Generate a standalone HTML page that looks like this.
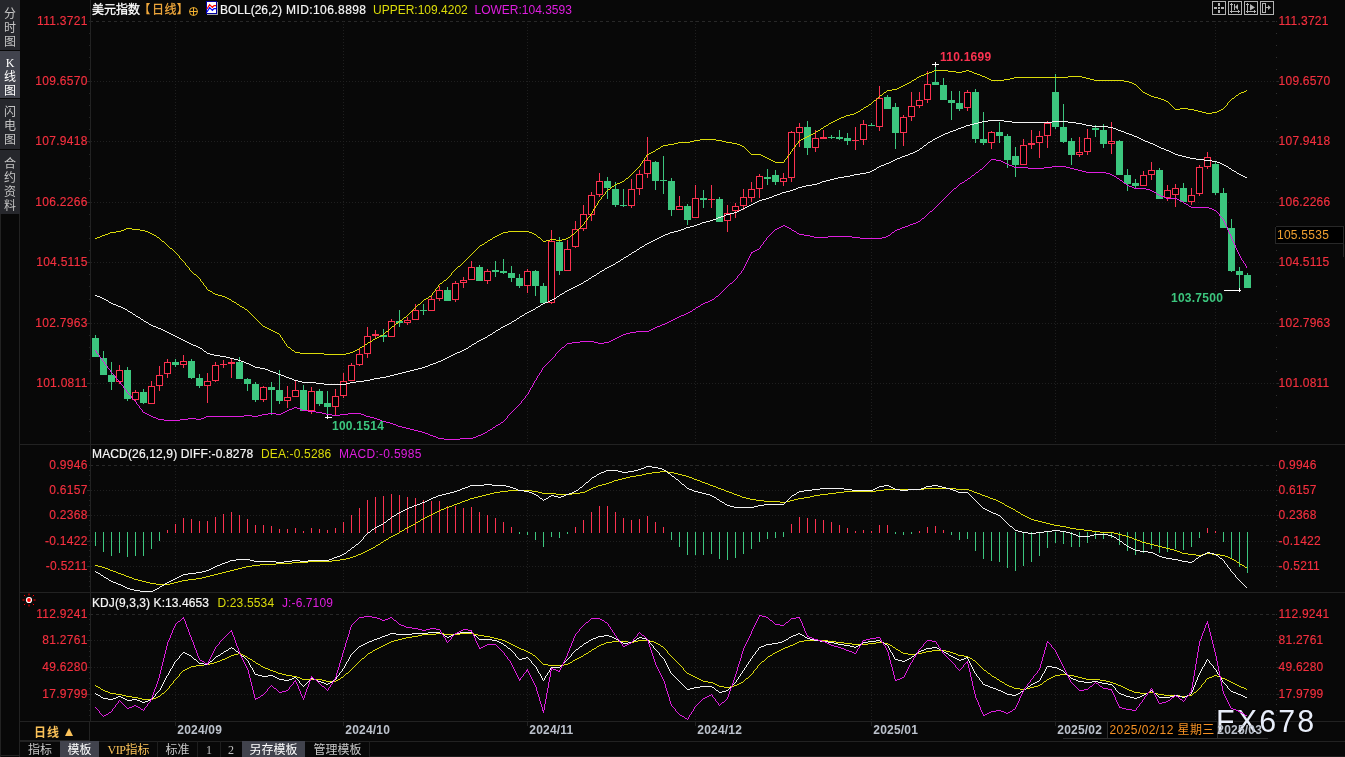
<!DOCTYPE html><html lang="zh"><head><meta charset="utf-8"><title>美元指数 日线</title><style>
html,body{margin:0;padding:0;background:#080808;}
body{width:1345px;height:757px;position:relative;overflow:hidden;font-family:"Liberation Sans","Noto Sans CJK SC",sans-serif;font-size:12px;line-height:14px;color:#e8e8e8;}
.t{position:absolute;white-space:nowrap;line-height:14px;height:14px;}
.r{color:#fb3250;}
.ax{position:absolute;left:20px;width:67.6px;letter-spacing:0.28px;text-align:right;color:#f5303f;-webkit-text-stroke:0.15px #f5303f;line-height:14px;height:14px;white-space:nowrap;}
.rx{position:absolute;left:1278.6px;letter-spacing:0.22px;color:#f5303f;-webkit-text-stroke:0.15px #f5303f;line-height:14px;height:14px;white-space:nowrap;}
.sb{position:absolute;left:0;width:20px;background:#26272c;color:#c4c4c4;text-align:center;line-height:14px;font-size:12px;}
.sb span{display:block;height:14px;}
.tab{position:absolute;top:741px;height:16px;line-height:18px;color:#c8c8c8;text-align:center;white-space:nowrap;}
.sel{background:#41434d;color:#fff;}
.dv{position:absolute;top:741px;width:1px;height:16px;background:#1e1e1e;}
.mo{position:absolute;top:723px;font-weight:bold;letter-spacing:0.2px;color:#bcc2cc;line-height:14px;white-space:nowrap;}
</style></head><body>
<div class="sb" style="top:0;height:50px;padding-top:0"><div style="padding-top:7px"><span>分</span><span>时</span><span>图</span></div></div>
<div class="sb sel" style="top:51px;height:47px;color:#fff"><div style="padding-top:5px"><span style='font-family:"Liberation Serif",serif'>K</span><span>线</span><span>图</span></div></div>
<div class="sb" style="top:99px;height:50px"><div style="padding-top:6px"><span>闪</span><span>电</span><span>图</span></div></div>
<div class="sb" style="top:150px;height:64px"><div style="padding-top:7px"><span>合</span><span>约</span><span>资</span><span>料</span></div></div>
<svg width="1345" height="757" viewBox="0 0 1345 757" style="position:absolute;left:0;top:0" shape-rendering="crispEdges">
<rect x="20" y="444" width="1325" height="1" fill="#222222"/>
<rect x="20" y="592" width="1325" height="1" fill="#222222"/>
<rect x="20" y="721" width="1325" height="1" fill="#222222"/>
<rect x="20" y="740" width="70" height="1" fill="#222222"/>
<rect x="20" y="741" width="1325" height="1" fill="#222222"/>
<rect x="369" y="756" width="976" height="1" fill="#1c1c1c"/>
<rect x="0" y="755" width="20" height="1" fill="#222222"/>
<rect x="0" y="214" width="1" height="543" fill="#222222"/>
<rect x="19" y="214" width="1" height="543" fill="#222222"/>
<rect x="90" y="0" width="1" height="721" fill="#222222"/>
<rect x="89" y="21" width="1" height="1" fill="#242424"/>
<rect x="1276" y="21" width="1" height="1" fill="#303030"/>
<rect x="89" y="33" width="1" height="1" fill="#242424"/>
<rect x="1276" y="33" width="1" height="1" fill="#303030"/>
<rect x="89" y="45" width="1" height="1" fill="#242424"/>
<rect x="1276" y="45" width="1" height="1" fill="#303030"/>
<rect x="89" y="57" width="1" height="1" fill="#242424"/>
<rect x="1276" y="57" width="1" height="1" fill="#303030"/>
<rect x="89" y="69" width="1" height="1" fill="#242424"/>
<rect x="1276" y="69" width="1" height="1" fill="#303030"/>
<rect x="89" y="81" width="1" height="1" fill="#242424"/>
<rect x="1276" y="81" width="1" height="1" fill="#303030"/>
<rect x="89" y="93" width="1" height="1" fill="#242424"/>
<rect x="1276" y="93" width="1" height="1" fill="#303030"/>
<rect x="89" y="105" width="1" height="1" fill="#242424"/>
<rect x="1276" y="105" width="1" height="1" fill="#303030"/>
<rect x="89" y="117" width="1" height="1" fill="#242424"/>
<rect x="1276" y="117" width="1" height="1" fill="#303030"/>
<rect x="89" y="129" width="1" height="1" fill="#242424"/>
<rect x="1276" y="129" width="1" height="1" fill="#303030"/>
<rect x="89" y="142" width="1" height="1" fill="#242424"/>
<rect x="1276" y="142" width="1" height="1" fill="#303030"/>
<rect x="89" y="154" width="1" height="1" fill="#242424"/>
<rect x="1276" y="154" width="1" height="1" fill="#303030"/>
<rect x="89" y="166" width="1" height="1" fill="#242424"/>
<rect x="1276" y="166" width="1" height="1" fill="#303030"/>
<rect x="89" y="178" width="1" height="1" fill="#242424"/>
<rect x="1276" y="178" width="1" height="1" fill="#303030"/>
<rect x="89" y="190" width="1" height="1" fill="#242424"/>
<rect x="1276" y="190" width="1" height="1" fill="#303030"/>
<rect x="89" y="202" width="1" height="1" fill="#242424"/>
<rect x="1276" y="202" width="1" height="1" fill="#303030"/>
<rect x="89" y="214" width="1" height="1" fill="#242424"/>
<rect x="1276" y="214" width="1" height="1" fill="#303030"/>
<rect x="89" y="226" width="1" height="1" fill="#242424"/>
<rect x="1276" y="226" width="1" height="1" fill="#303030"/>
<rect x="89" y="238" width="1" height="1" fill="#242424"/>
<rect x="1276" y="238" width="1" height="1" fill="#303030"/>
<rect x="89" y="250" width="1" height="1" fill="#242424"/>
<rect x="1276" y="250" width="1" height="1" fill="#303030"/>
<rect x="89" y="262" width="1" height="1" fill="#242424"/>
<rect x="1276" y="262" width="1" height="1" fill="#303030"/>
<rect x="89" y="274" width="1" height="1" fill="#242424"/>
<rect x="1276" y="274" width="1" height="1" fill="#303030"/>
<rect x="89" y="286" width="1" height="1" fill="#242424"/>
<rect x="1276" y="286" width="1" height="1" fill="#303030"/>
<rect x="89" y="299" width="1" height="1" fill="#242424"/>
<rect x="1276" y="299" width="1" height="1" fill="#303030"/>
<rect x="89" y="311" width="1" height="1" fill="#242424"/>
<rect x="1276" y="311" width="1" height="1" fill="#303030"/>
<rect x="89" y="323" width="1" height="1" fill="#242424"/>
<rect x="1276" y="323" width="1" height="1" fill="#303030"/>
<rect x="89" y="335" width="1" height="1" fill="#242424"/>
<rect x="1276" y="335" width="1" height="1" fill="#303030"/>
<rect x="89" y="347" width="1" height="1" fill="#242424"/>
<rect x="1276" y="347" width="1" height="1" fill="#303030"/>
<rect x="89" y="359" width="1" height="1" fill="#242424"/>
<rect x="1276" y="359" width="1" height="1" fill="#303030"/>
<rect x="89" y="371" width="1" height="1" fill="#242424"/>
<rect x="1276" y="371" width="1" height="1" fill="#303030"/>
<rect x="89" y="383" width="1" height="1" fill="#242424"/>
<rect x="1276" y="383" width="1" height="1" fill="#303030"/>
<rect x="89" y="395" width="1" height="1" fill="#242424"/>
<rect x="1276" y="395" width="1" height="1" fill="#303030"/>
<rect x="89" y="407" width="1" height="1" fill="#242424"/>
<rect x="1276" y="407" width="1" height="1" fill="#303030"/>
<rect x="89" y="419" width="1" height="1" fill="#242424"/>
<rect x="1276" y="419" width="1" height="1" fill="#303030"/>
<rect x="89" y="431" width="1" height="1" fill="#242424"/>
<rect x="1276" y="431" width="1" height="1" fill="#303030"/>
<rect x="89" y="465" width="1" height="1" fill="#242424"/>
<rect x="1276" y="465" width="1" height="1" fill="#303030"/>
<rect x="89" y="470" width="1" height="1" fill="#242424"/>
<rect x="1276" y="470" width="1" height="1" fill="#303030"/>
<rect x="89" y="475" width="1" height="1" fill="#242424"/>
<rect x="1276" y="475" width="1" height="1" fill="#303030"/>
<rect x="89" y="480" width="1" height="1" fill="#242424"/>
<rect x="1276" y="480" width="1" height="1" fill="#303030"/>
<rect x="89" y="485" width="1" height="1" fill="#242424"/>
<rect x="1276" y="485" width="1" height="1" fill="#303030"/>
<rect x="89" y="490" width="1" height="1" fill="#242424"/>
<rect x="1276" y="490" width="1" height="1" fill="#303030"/>
<rect x="89" y="495" width="1" height="1" fill="#242424"/>
<rect x="1276" y="495" width="1" height="1" fill="#303030"/>
<rect x="89" y="500" width="1" height="1" fill="#242424"/>
<rect x="1276" y="500" width="1" height="1" fill="#303030"/>
<rect x="89" y="505" width="1" height="1" fill="#242424"/>
<rect x="1276" y="505" width="1" height="1" fill="#303030"/>
<rect x="89" y="510" width="1" height="1" fill="#242424"/>
<rect x="1276" y="510" width="1" height="1" fill="#303030"/>
<rect x="89" y="515" width="1" height="1" fill="#242424"/>
<rect x="1276" y="515" width="1" height="1" fill="#303030"/>
<rect x="89" y="520" width="1" height="1" fill="#242424"/>
<rect x="1276" y="520" width="1" height="1" fill="#303030"/>
<rect x="89" y="525" width="1" height="1" fill="#242424"/>
<rect x="1276" y="525" width="1" height="1" fill="#303030"/>
<rect x="89" y="530" width="1" height="1" fill="#242424"/>
<rect x="1276" y="530" width="1" height="1" fill="#303030"/>
<rect x="89" y="535" width="1" height="1" fill="#242424"/>
<rect x="1276" y="535" width="1" height="1" fill="#303030"/>
<rect x="89" y="540" width="1" height="1" fill="#242424"/>
<rect x="1276" y="540" width="1" height="1" fill="#303030"/>
<rect x="89" y="545" width="1" height="1" fill="#242424"/>
<rect x="1276" y="545" width="1" height="1" fill="#303030"/>
<rect x="89" y="550" width="1" height="1" fill="#242424"/>
<rect x="1276" y="550" width="1" height="1" fill="#303030"/>
<rect x="89" y="556" width="1" height="1" fill="#242424"/>
<rect x="1276" y="556" width="1" height="1" fill="#303030"/>
<rect x="89" y="561" width="1" height="1" fill="#242424"/>
<rect x="1276" y="561" width="1" height="1" fill="#303030"/>
<rect x="89" y="566" width="1" height="1" fill="#242424"/>
<rect x="1276" y="566" width="1" height="1" fill="#303030"/>
<rect x="89" y="571" width="1" height="1" fill="#242424"/>
<rect x="1276" y="571" width="1" height="1" fill="#303030"/>
<rect x="89" y="576" width="1" height="1" fill="#242424"/>
<rect x="1276" y="576" width="1" height="1" fill="#303030"/>
<rect x="89" y="581" width="1" height="1" fill="#242424"/>
<rect x="1276" y="581" width="1" height="1" fill="#303030"/>
<rect x="89" y="586" width="1" height="1" fill="#242424"/>
<rect x="1276" y="586" width="1" height="1" fill="#303030"/>
<rect x="89" y="614" width="1" height="1" fill="#242424"/>
<rect x="1276" y="614" width="1" height="1" fill="#303030"/>
<rect x="89" y="619" width="1" height="1" fill="#242424"/>
<rect x="1276" y="619" width="1" height="1" fill="#303030"/>
<rect x="89" y="624" width="1" height="1" fill="#242424"/>
<rect x="1276" y="624" width="1" height="1" fill="#303030"/>
<rect x="89" y="630" width="1" height="1" fill="#242424"/>
<rect x="1276" y="630" width="1" height="1" fill="#303030"/>
<rect x="89" y="635" width="1" height="1" fill="#242424"/>
<rect x="1276" y="635" width="1" height="1" fill="#303030"/>
<rect x="89" y="640" width="1" height="1" fill="#242424"/>
<rect x="1276" y="640" width="1" height="1" fill="#303030"/>
<rect x="89" y="646" width="1" height="1" fill="#242424"/>
<rect x="1276" y="646" width="1" height="1" fill="#303030"/>
<rect x="89" y="651" width="1" height="1" fill="#242424"/>
<rect x="1276" y="651" width="1" height="1" fill="#303030"/>
<rect x="89" y="656" width="1" height="1" fill="#242424"/>
<rect x="1276" y="656" width="1" height="1" fill="#303030"/>
<rect x="89" y="662" width="1" height="1" fill="#242424"/>
<rect x="1276" y="662" width="1" height="1" fill="#303030"/>
<rect x="89" y="667" width="1" height="1" fill="#242424"/>
<rect x="1276" y="667" width="1" height="1" fill="#303030"/>
<rect x="89" y="672" width="1" height="1" fill="#242424"/>
<rect x="1276" y="672" width="1" height="1" fill="#303030"/>
<rect x="89" y="678" width="1" height="1" fill="#242424"/>
<rect x="1276" y="678" width="1" height="1" fill="#303030"/>
<rect x="89" y="683" width="1" height="1" fill="#242424"/>
<rect x="1276" y="683" width="1" height="1" fill="#303030"/>
<rect x="89" y="688" width="1" height="1" fill="#242424"/>
<rect x="1276" y="688" width="1" height="1" fill="#303030"/>
<rect x="89" y="694" width="1" height="1" fill="#242424"/>
<rect x="1276" y="694" width="1" height="1" fill="#303030"/>
<rect x="89" y="699" width="1" height="1" fill="#242424"/>
<rect x="1276" y="699" width="1" height="1" fill="#303030"/>
<rect x="89" y="704" width="1" height="1" fill="#242424"/>
<rect x="1276" y="704" width="1" height="1" fill="#303030"/>
<rect x="89" y="710" width="1" height="1" fill="#242424"/>
<rect x="1276" y="710" width="1" height="1" fill="#303030"/>
<rect x="89" y="715" width="1" height="1" fill="#242424"/>
<rect x="1276" y="715" width="1" height="1" fill="#303030"/>
<rect x="1276" y="81" width="3" height="1" fill="#2a2a2a"/>
<rect x="87" y="81" width="3" height="1" fill="#2a2a2a"/>
<rect x="1276" y="141" width="3" height="1" fill="#2a2a2a"/>
<rect x="87" y="141" width="3" height="1" fill="#2a2a2a"/>
<rect x="1276" y="202" width="3" height="1" fill="#2a2a2a"/>
<rect x="87" y="202" width="3" height="1" fill="#2a2a2a"/>
<rect x="1276" y="262" width="3" height="1" fill="#2a2a2a"/>
<rect x="87" y="262" width="3" height="1" fill="#2a2a2a"/>
<rect x="1276" y="323" width="3" height="1" fill="#2a2a2a"/>
<rect x="87" y="323" width="3" height="1" fill="#2a2a2a"/>
<rect x="1276" y="383" width="3" height="1" fill="#2a2a2a"/>
<rect x="87" y="383" width="3" height="1" fill="#2a2a2a"/>
<rect x="1276" y="490" width="3" height="1" fill="#2a2a2a"/>
<rect x="87" y="490" width="3" height="1" fill="#2a2a2a"/>
<rect x="1276" y="515" width="3" height="1" fill="#2a2a2a"/>
<rect x="87" y="515" width="3" height="1" fill="#2a2a2a"/>
<rect x="1276" y="541" width="3" height="1" fill="#2a2a2a"/>
<rect x="87" y="541" width="3" height="1" fill="#2a2a2a"/>
<rect x="1276" y="566" width="3" height="1" fill="#2a2a2a"/>
<rect x="87" y="566" width="3" height="1" fill="#2a2a2a"/>
<rect x="1276" y="640" width="3" height="1" fill="#2a2a2a"/>
<rect x="87" y="640" width="3" height="1" fill="#2a2a2a"/>
<rect x="1276" y="667" width="3" height="1" fill="#2a2a2a"/>
<rect x="87" y="667" width="3" height="1" fill="#2a2a2a"/>
<rect x="1276" y="694" width="3" height="1" fill="#2a2a2a"/>
<rect x="87" y="694" width="3" height="1" fill="#2a2a2a"/>
<path d="M91 21.5H1275" stroke="#282828" stroke-width="1" stroke-dasharray="3 3" stroke-dashoffset="1" fill="none"/>
<path d="M91 81.5H1278" stroke="#1f1f1f" stroke-width="1" stroke-dasharray="1 2" fill="none"/>
<path d="M91 141.5H1278" stroke="#1f1f1f" stroke-width="1" stroke-dasharray="1 2" fill="none"/>
<path d="M91 202.5H1278" stroke="#1f1f1f" stroke-width="1" stroke-dasharray="1 2" fill="none"/>
<path d="M91 262.5H1278" stroke="#1f1f1f" stroke-width="1" stroke-dasharray="1 2" fill="none"/>
<path d="M91 323.5H1278" stroke="#1f1f1f" stroke-width="1" stroke-dasharray="1 2" fill="none"/>
<path d="M91 383.5H1278" stroke="#1f1f1f" stroke-width="1" stroke-dasharray="1 2" fill="none"/>
<path d="M91 465.5H1275" stroke="#282828" stroke-width="1" stroke-dasharray="3 3" stroke-dashoffset="1" fill="none"/>
<path d="M91 490.5H1278" stroke="#1f1f1f" stroke-width="1" stroke-dasharray="1 2" fill="none"/>
<path d="M91 515.5H1278" stroke="#1f1f1f" stroke-width="1" stroke-dasharray="1 2" fill="none"/>
<path d="M91 541.5H1278" stroke="#1f1f1f" stroke-width="1" stroke-dasharray="1 2" fill="none"/>
<path d="M91 566.5H1278" stroke="#1f1f1f" stroke-width="1" stroke-dasharray="1 2" fill="none"/>
<path d="M91 614.5H1275" stroke="#282828" stroke-width="1" stroke-dasharray="3 3" stroke-dashoffset="1" fill="none"/>
<path d="M91 640.5H1278" stroke="#1f1f1f" stroke-width="1" stroke-dasharray="1 2" fill="none"/>
<path d="M91 667.5H1278" stroke="#1f1f1f" stroke-width="1" stroke-dasharray="1 2" fill="none"/>
<path d="M91 694.5H1278" stroke="#1f1f1f" stroke-width="1" stroke-dasharray="1 2" fill="none"/>
<path d="M175.5 21V444" stroke="#1f1f1f" stroke-width="1" stroke-dasharray="1 2" fill="none"/>
<path d="M175.5 465V592" stroke="#1f1f1f" stroke-width="1" stroke-dasharray="1 2" fill="none"/>
<path d="M175.5 614V721" stroke="#1f1f1f" stroke-width="1" stroke-dasharray="1 2" fill="none"/>
<rect x="175" y="722" width="1" height="4" fill="#222222"/>
<path d="M343.5 21V444" stroke="#1f1f1f" stroke-width="1" stroke-dasharray="1 2" fill="none"/>
<path d="M343.5 465V592" stroke="#1f1f1f" stroke-width="1" stroke-dasharray="1 2" fill="none"/>
<path d="M343.5 614V721" stroke="#1f1f1f" stroke-width="1" stroke-dasharray="1 2" fill="none"/>
<rect x="343" y="722" width="1" height="4" fill="#222222"/>
<path d="M527.5 21V444" stroke="#1f1f1f" stroke-width="1" stroke-dasharray="1 2" fill="none"/>
<path d="M527.5 465V592" stroke="#1f1f1f" stroke-width="1" stroke-dasharray="1 2" fill="none"/>
<path d="M527.5 614V721" stroke="#1f1f1f" stroke-width="1" stroke-dasharray="1 2" fill="none"/>
<rect x="527" y="722" width="1" height="4" fill="#222222"/>
<path d="M695.5 21V444" stroke="#1f1f1f" stroke-width="1" stroke-dasharray="1 2" fill="none"/>
<path d="M695.5 465V592" stroke="#1f1f1f" stroke-width="1" stroke-dasharray="1 2" fill="none"/>
<path d="M695.5 614V721" stroke="#1f1f1f" stroke-width="1" stroke-dasharray="1 2" fill="none"/>
<rect x="695" y="722" width="1" height="4" fill="#222222"/>
<path d="M871.5 21V444" stroke="#1f1f1f" stroke-width="1" stroke-dasharray="1 2" fill="none"/>
<path d="M871.5 465V592" stroke="#1f1f1f" stroke-width="1" stroke-dasharray="1 2" fill="none"/>
<path d="M871.5 614V721" stroke="#1f1f1f" stroke-width="1" stroke-dasharray="1 2" fill="none"/>
<rect x="871" y="722" width="1" height="4" fill="#222222"/>
<path d="M1055.5 21V444" stroke="#1f1f1f" stroke-width="1" stroke-dasharray="1 2" fill="none"/>
<path d="M1055.5 465V592" stroke="#1f1f1f" stroke-width="1" stroke-dasharray="1 2" fill="none"/>
<path d="M1055.5 614V721" stroke="#1f1f1f" stroke-width="1" stroke-dasharray="1 2" fill="none"/>
<rect x="1055" y="722" width="1" height="4" fill="#222222"/>
<path d="M1215.5 21V444" stroke="#1f1f1f" stroke-width="1" stroke-dasharray="1 2" fill="none"/>
<path d="M1215.5 465V592" stroke="#1f1f1f" stroke-width="1" stroke-dasharray="1 2" fill="none"/>
<path d="M1215.5 614V721" stroke="#1f1f1f" stroke-width="1" stroke-dasharray="1 2" fill="none"/>
<rect x="1215" y="722" width="1" height="4" fill="#222222"/>
<rect x="89" y="722" width="1" height="19" fill="#222222"/>
<rect x="95" y="335" width="1" height="22" fill="#3cc67e"/>
<rect x="92" y="338" width="7" height="19" fill="#3cc67e"/>
<rect x="103" y="351" width="1" height="24" fill="#3cc67e"/>
<rect x="100" y="358" width="7" height="17" fill="#3cc67e"/>
<rect x="111" y="362" width="1" height="28" fill="#3cc67e"/>
<rect x="108" y="375" width="7" height="7" fill="#3cc67e"/>
<rect x="119" y="365" width="1" height="19" fill="#fb3250"/>
<rect x="116" y="370" width="7" height="12" fill="#fb3250"/>
<rect x="117" y="371" width="5" height="10" fill="#000"/>
<rect x="127" y="367" width="1" height="34" fill="#3cc67e"/>
<rect x="124" y="370" width="7" height="29" fill="#3cc67e"/>
<rect x="135" y="390" width="1" height="11" fill="#fb3250"/>
<rect x="132" y="392" width="7" height="8" fill="#fb3250"/>
<rect x="133" y="393" width="5" height="6" fill="#000"/>
<rect x="143" y="389" width="1" height="15" fill="#3cc67e"/>
<rect x="140" y="392" width="7" height="11" fill="#3cc67e"/>
<rect x="151" y="381" width="1" height="23" fill="#fb3250"/>
<rect x="148" y="386" width="7" height="18" fill="#fb3250"/>
<rect x="149" y="387" width="5" height="16" fill="#000"/>
<rect x="159" y="366" width="1" height="25" fill="#fb3250"/>
<rect x="156" y="375" width="7" height="11" fill="#fb3250"/>
<rect x="157" y="376" width="5" height="9" fill="#000"/>
<rect x="167" y="359" width="1" height="19" fill="#fb3250"/>
<rect x="164" y="362" width="7" height="12" fill="#fb3250"/>
<rect x="165" y="363" width="5" height="10" fill="#000"/>
<rect x="175" y="359" width="1" height="8" fill="#3cc67e"/>
<rect x="172" y="362" width="7" height="3" fill="#3cc67e"/>
<rect x="183" y="355" width="1" height="13" fill="#fb3250"/>
<rect x="180" y="361" width="7" height="4" fill="#fb3250"/>
<rect x="181" y="362" width="5" height="2" fill="#000"/>
<rect x="191" y="359" width="1" height="20" fill="#3cc67e"/>
<rect x="188" y="361" width="7" height="17" fill="#3cc67e"/>
<rect x="199" y="374" width="1" height="14" fill="#3cc67e"/>
<rect x="196" y="378" width="7" height="8" fill="#3cc67e"/>
<rect x="207" y="373" width="1" height="30" fill="#fb3250"/>
<rect x="204" y="381" width="7" height="5" fill="#fb3250"/>
<rect x="205" y="382" width="5" height="3" fill="#000"/>
<rect x="215" y="362" width="1" height="20" fill="#fb3250"/>
<rect x="212" y="365" width="7" height="16" fill="#fb3250"/>
<rect x="213" y="366" width="5" height="14" fill="#000"/>
<rect x="223" y="360" width="1" height="8" fill="#fb3250"/>
<rect x="220" y="364" width="7" height="1" fill="#fb3250"/>
<rect x="231" y="359" width="1" height="19" fill="#fb3250"/>
<rect x="228" y="362" width="7" height="2" fill="#fb3250"/>
<rect x="239" y="357" width="1" height="22" fill="#3cc67e"/>
<rect x="236" y="362" width="7" height="17" fill="#3cc67e"/>
<rect x="247" y="378" width="1" height="13" fill="#3cc67e"/>
<rect x="244" y="379" width="7" height="5" fill="#3cc67e"/>
<rect x="255" y="382" width="1" height="20" fill="#3cc67e"/>
<rect x="252" y="384" width="7" height="16" fill="#3cc67e"/>
<rect x="263" y="386" width="1" height="16" fill="#fb3250"/>
<rect x="260" y="387" width="7" height="13" fill="#fb3250"/>
<rect x="261" y="388" width="5" height="11" fill="#000"/>
<rect x="271" y="382" width="1" height="33" fill="#3cc67e"/>
<rect x="268" y="387" width="7" height="3" fill="#3cc67e"/>
<rect x="279" y="370" width="1" height="34" fill="#3cc67e"/>
<rect x="276" y="390" width="7" height="11" fill="#3cc67e"/>
<rect x="287" y="386" width="1" height="22" fill="#fb3250"/>
<rect x="284" y="397" width="7" height="4" fill="#fb3250"/>
<rect x="285" y="398" width="5" height="2" fill="#000"/>
<rect x="295" y="380" width="1" height="17" fill="#fb3250"/>
<rect x="292" y="390" width="7" height="7" fill="#fb3250"/>
<rect x="293" y="391" width="5" height="5" fill="#000"/>
<rect x="303" y="385" width="1" height="26" fill="#3cc67e"/>
<rect x="300" y="390" width="7" height="21" fill="#3cc67e"/>
<rect x="311" y="387" width="1" height="27" fill="#fb3250"/>
<rect x="308" y="391" width="7" height="20" fill="#fb3250"/>
<rect x="309" y="392" width="5" height="18" fill="#000"/>
<rect x="319" y="389" width="1" height="17" fill="#3cc67e"/>
<rect x="316" y="391" width="7" height="13" fill="#3cc67e"/>
<rect x="327" y="391" width="1" height="25" fill="#3cc67e"/>
<rect x="324" y="403" width="7" height="4" fill="#3cc67e"/>
<rect x="335" y="389" width="1" height="26" fill="#fb3250"/>
<rect x="332" y="396" width="7" height="11" fill="#fb3250"/>
<rect x="333" y="397" width="5" height="9" fill="#000"/>
<rect x="343" y="373" width="1" height="25" fill="#fb3250"/>
<rect x="340" y="381" width="7" height="15" fill="#fb3250"/>
<rect x="341" y="382" width="5" height="13" fill="#000"/>
<rect x="351" y="363" width="1" height="18" fill="#fb3250"/>
<rect x="348" y="365" width="7" height="16" fill="#fb3250"/>
<rect x="349" y="366" width="5" height="14" fill="#000"/>
<rect x="359" y="349" width="1" height="17" fill="#fb3250"/>
<rect x="356" y="354" width="7" height="11" fill="#fb3250"/>
<rect x="357" y="355" width="5" height="9" fill="#000"/>
<rect x="367" y="327" width="1" height="31" fill="#fb3250"/>
<rect x="364" y="336" width="7" height="18" fill="#fb3250"/>
<rect x="365" y="337" width="5" height="16" fill="#000"/>
<rect x="375" y="330" width="1" height="8" fill="#fb3250"/>
<rect x="372" y="334" width="7" height="2" fill="#fb3250"/>
<rect x="383" y="329" width="1" height="13" fill="#3cc67e"/>
<rect x="380" y="335" width="7" height="2" fill="#3cc67e"/>
<rect x="391" y="319" width="1" height="18" fill="#fb3250"/>
<rect x="388" y="321" width="7" height="16" fill="#fb3250"/>
<rect x="389" y="322" width="5" height="14" fill="#000"/>
<rect x="399" y="310" width="1" height="17" fill="#3cc67e"/>
<rect x="396" y="321" width="7" height="2" fill="#3cc67e"/>
<rect x="407" y="317" width="1" height="8" fill="#fb3250"/>
<rect x="404" y="320" width="7" height="3" fill="#fb3250"/>
<rect x="405" y="321" width="5" height="1" fill="#000"/>
<rect x="415" y="304" width="1" height="16" fill="#fb3250"/>
<rect x="412" y="310" width="7" height="10" fill="#fb3250"/>
<rect x="413" y="311" width="5" height="8" fill="#000"/>
<rect x="423" y="304" width="1" height="11" fill="#3cc67e"/>
<rect x="420" y="310" width="7" height="1" fill="#3cc67e"/>
<rect x="431" y="295" width="1" height="16" fill="#fb3250"/>
<rect x="428" y="299" width="7" height="12" fill="#fb3250"/>
<rect x="429" y="300" width="5" height="10" fill="#000"/>
<rect x="439" y="286" width="1" height="15" fill="#fb3250"/>
<rect x="436" y="290" width="7" height="9" fill="#fb3250"/>
<rect x="437" y="291" width="5" height="7" fill="#000"/>
<rect x="447" y="287" width="1" height="14" fill="#3cc67e"/>
<rect x="444" y="290" width="7" height="11" fill="#3cc67e"/>
<rect x="455" y="281" width="1" height="21" fill="#fb3250"/>
<rect x="452" y="283" width="7" height="17" fill="#fb3250"/>
<rect x="453" y="284" width="5" height="15" fill="#000"/>
<rect x="463" y="277" width="1" height="11" fill="#fb3250"/>
<rect x="460" y="280" width="7" height="3" fill="#fb3250"/>
<rect x="461" y="281" width="5" height="1" fill="#000"/>
<rect x="471" y="261" width="1" height="19" fill="#fb3250"/>
<rect x="468" y="267" width="7" height="13" fill="#fb3250"/>
<rect x="469" y="268" width="5" height="11" fill="#000"/>
<rect x="479" y="265" width="1" height="16" fill="#3cc67e"/>
<rect x="476" y="267" width="7" height="14" fill="#3cc67e"/>
<rect x="487" y="269" width="1" height="15" fill="#fb3250"/>
<rect x="484" y="271" width="7" height="10" fill="#fb3250"/>
<rect x="485" y="272" width="5" height="8" fill="#000"/>
<rect x="495" y="261" width="1" height="16" fill="#3cc67e"/>
<rect x="492" y="270" width="7" height="2" fill="#3cc67e"/>
<rect x="503" y="259" width="1" height="15" fill="#3cc67e"/>
<rect x="500" y="271" width="7" height="2" fill="#3cc67e"/>
<rect x="511" y="266" width="1" height="16" fill="#3cc67e"/>
<rect x="508" y="273" width="7" height="5" fill="#3cc67e"/>
<rect x="519" y="274" width="1" height="14" fill="#3cc67e"/>
<rect x="516" y="278" width="7" height="8" fill="#3cc67e"/>
<rect x="527" y="269" width="1" height="24" fill="#fb3250"/>
<rect x="524" y="271" width="7" height="15" fill="#fb3250"/>
<rect x="525" y="272" width="5" height="13" fill="#000"/>
<rect x="535" y="270" width="1" height="26" fill="#3cc67e"/>
<rect x="532" y="271" width="7" height="15" fill="#3cc67e"/>
<rect x="543" y="283" width="1" height="20" fill="#3cc67e"/>
<rect x="540" y="286" width="7" height="17" fill="#3cc67e"/>
<rect x="551" y="230" width="1" height="74" fill="#fb3250"/>
<rect x="548" y="241" width="7" height="62" fill="#fb3250"/>
<rect x="549" y="242" width="5" height="60" fill="#000"/>
<rect x="559" y="237" width="1" height="38" fill="#3cc67e"/>
<rect x="556" y="242" width="7" height="29" fill="#3cc67e"/>
<rect x="567" y="240" width="1" height="31" fill="#fb3250"/>
<rect x="564" y="249" width="7" height="22" fill="#fb3250"/>
<rect x="565" y="250" width="5" height="20" fill="#000"/>
<rect x="575" y="221" width="1" height="27" fill="#fb3250"/>
<rect x="572" y="229" width="7" height="18" fill="#fb3250"/>
<rect x="573" y="230" width="5" height="16" fill="#000"/>
<rect x="583" y="205" width="1" height="26" fill="#fb3250"/>
<rect x="580" y="214" width="7" height="15" fill="#fb3250"/>
<rect x="581" y="215" width="5" height="13" fill="#000"/>
<rect x="591" y="192" width="1" height="29" fill="#fb3250"/>
<rect x="588" y="195" width="7" height="20" fill="#fb3250"/>
<rect x="589" y="196" width="5" height="18" fill="#000"/>
<rect x="599" y="173" width="1" height="24" fill="#fb3250"/>
<rect x="596" y="181" width="7" height="14" fill="#fb3250"/>
<rect x="597" y="182" width="5" height="12" fill="#000"/>
<rect x="607" y="177" width="1" height="22" fill="#3cc67e"/>
<rect x="604" y="181" width="7" height="7" fill="#3cc67e"/>
<rect x="615" y="182" width="1" height="25" fill="#3cc67e"/>
<rect x="612" y="189" width="7" height="16" fill="#3cc67e"/>
<rect x="623" y="189" width="1" height="18" fill="#3cc67e"/>
<rect x="620" y="205" width="7" height="1" fill="#3cc67e"/>
<rect x="631" y="179" width="1" height="29" fill="#fb3250"/>
<rect x="628" y="189" width="7" height="17" fill="#fb3250"/>
<rect x="629" y="190" width="5" height="15" fill="#000"/>
<rect x="639" y="170" width="1" height="25" fill="#fb3250"/>
<rect x="636" y="174" width="7" height="15" fill="#fb3250"/>
<rect x="637" y="175" width="5" height="13" fill="#000"/>
<rect x="647" y="137" width="1" height="41" fill="#fb3250"/>
<rect x="644" y="160" width="7" height="14" fill="#fb3250"/>
<rect x="645" y="161" width="5" height="12" fill="#000"/>
<rect x="655" y="161" width="1" height="29" fill="#3cc67e"/>
<rect x="652" y="162" width="7" height="19" fill="#3cc67e"/>
<rect x="663" y="156" width="1" height="38" fill="#3cc67e"/>
<rect x="660" y="180" width="7" height="1" fill="#3cc67e"/>
<rect x="671" y="178" width="1" height="38" fill="#3cc67e"/>
<rect x="668" y="181" width="7" height="29" fill="#3cc67e"/>
<rect x="679" y="196" width="1" height="14" fill="#fb3250"/>
<rect x="676" y="206" width="7" height="4" fill="#fb3250"/>
<rect x="677" y="207" width="5" height="2" fill="#000"/>
<rect x="687" y="204" width="1" height="21" fill="#3cc67e"/>
<rect x="684" y="206" width="7" height="14" fill="#3cc67e"/>
<rect x="695" y="185" width="1" height="33" fill="#fb3250"/>
<rect x="692" y="198" width="7" height="20" fill="#fb3250"/>
<rect x="693" y="199" width="5" height="18" fill="#000"/>
<rect x="703" y="190" width="1" height="18" fill="#3cc67e"/>
<rect x="700" y="198" width="7" height="2" fill="#3cc67e"/>
<rect x="711" y="185" width="1" height="23" fill="#fb3250"/>
<rect x="708" y="199" width="7" height="1" fill="#fb3250"/>
<rect x="719" y="197" width="1" height="25" fill="#3cc67e"/>
<rect x="716" y="199" width="7" height="23" fill="#3cc67e"/>
<rect x="727" y="205" width="1" height="27" fill="#fb3250"/>
<rect x="724" y="213" width="7" height="8" fill="#fb3250"/>
<rect x="725" y="214" width="5" height="6" fill="#000"/>
<rect x="735" y="203" width="1" height="15" fill="#fb3250"/>
<rect x="732" y="206" width="7" height="5" fill="#fb3250"/>
<rect x="733" y="207" width="5" height="3" fill="#000"/>
<rect x="743" y="189" width="1" height="21" fill="#fb3250"/>
<rect x="740" y="197" width="7" height="9" fill="#fb3250"/>
<rect x="741" y="198" width="5" height="7" fill="#000"/>
<rect x="751" y="182" width="1" height="20" fill="#fb3250"/>
<rect x="748" y="189" width="7" height="9" fill="#fb3250"/>
<rect x="749" y="190" width="5" height="7" fill="#000"/>
<rect x="759" y="174" width="1" height="24" fill="#fb3250"/>
<rect x="756" y="176" width="7" height="13" fill="#fb3250"/>
<rect x="757" y="177" width="5" height="11" fill="#000"/>
<rect x="767" y="169" width="1" height="16" fill="#3cc67e"/>
<rect x="764" y="177" width="7" height="2" fill="#3cc67e"/>
<rect x="775" y="170" width="1" height="15" fill="#3cc67e"/>
<rect x="772" y="175" width="7" height="7" fill="#3cc67e"/>
<rect x="783" y="173" width="1" height="13" fill="#fb3250"/>
<rect x="780" y="178" width="7" height="4" fill="#fb3250"/>
<rect x="781" y="179" width="5" height="2" fill="#000"/>
<rect x="791" y="131" width="1" height="51" fill="#fb3250"/>
<rect x="788" y="132" width="7" height="46" fill="#fb3250"/>
<rect x="789" y="133" width="5" height="44" fill="#000"/>
<rect x="799" y="123" width="1" height="24" fill="#fb3250"/>
<rect x="796" y="127" width="7" height="6" fill="#fb3250"/>
<rect x="797" y="128" width="5" height="4" fill="#000"/>
<rect x="807" y="121" width="1" height="34" fill="#3cc67e"/>
<rect x="804" y="127" width="7" height="21" fill="#3cc67e"/>
<rect x="815" y="130" width="1" height="22" fill="#fb3250"/>
<rect x="812" y="138" width="7" height="10" fill="#fb3250"/>
<rect x="813" y="139" width="5" height="8" fill="#000"/>
<rect x="823" y="130" width="1" height="9" fill="#fb3250"/>
<rect x="820" y="137" width="7" height="2" fill="#fb3250"/>
<rect x="831" y="135" width="1" height="4" fill="#3cc67e"/>
<rect x="828" y="137" width="7" height="1" fill="#3cc67e"/>
<rect x="839" y="130" width="1" height="10" fill="#3cc67e"/>
<rect x="836" y="137" width="7" height="2" fill="#3cc67e"/>
<rect x="847" y="133" width="1" height="12" fill="#3cc67e"/>
<rect x="844" y="138" width="7" height="3" fill="#3cc67e"/>
<rect x="855" y="127" width="1" height="23" fill="#fb3250"/>
<rect x="852" y="140" width="7" height="1" fill="#fb3250"/>
<rect x="863" y="120" width="1" height="25" fill="#fb3250"/>
<rect x="860" y="124" width="7" height="16" fill="#fb3250"/>
<rect x="861" y="125" width="5" height="14" fill="#000"/>
<rect x="871" y="123" width="1" height="3" fill="#3cc67e"/>
<rect x="868" y="125" width="7" height="1" fill="#3cc67e"/>
<rect x="879" y="86" width="1" height="45" fill="#fb3250"/>
<rect x="876" y="98" width="7" height="29" fill="#fb3250"/>
<rect x="877" y="99" width="5" height="27" fill="#000"/>
<rect x="887" y="95" width="1" height="14" fill="#3cc67e"/>
<rect x="884" y="97" width="7" height="12" fill="#3cc67e"/>
<rect x="895" y="103" width="1" height="46" fill="#3cc67e"/>
<rect x="892" y="107" width="7" height="26" fill="#3cc67e"/>
<rect x="903" y="115" width="1" height="31" fill="#fb3250"/>
<rect x="900" y="117" width="7" height="16" fill="#fb3250"/>
<rect x="901" y="118" width="5" height="14" fill="#000"/>
<rect x="911" y="92" width="1" height="29" fill="#fb3250"/>
<rect x="908" y="106" width="7" height="11" fill="#fb3250"/>
<rect x="909" y="107" width="5" height="9" fill="#000"/>
<rect x="919" y="92" width="1" height="16" fill="#fb3250"/>
<rect x="916" y="100" width="7" height="6" fill="#fb3250"/>
<rect x="917" y="101" width="5" height="4" fill="#000"/>
<rect x="927" y="71" width="1" height="32" fill="#fb3250"/>
<rect x="924" y="84" width="7" height="16" fill="#fb3250"/>
<rect x="925" y="85" width="5" height="14" fill="#000"/>
<rect x="935" y="66" width="1" height="19" fill="#3cc67e"/>
<rect x="932" y="82" width="7" height="3" fill="#3cc67e"/>
<rect x="943" y="78" width="1" height="22" fill="#3cc67e"/>
<rect x="940" y="85" width="7" height="15" fill="#3cc67e"/>
<rect x="951" y="91" width="1" height="29" fill="#3cc67e"/>
<rect x="948" y="100" width="7" height="3" fill="#3cc67e"/>
<rect x="959" y="91" width="1" height="20" fill="#3cc67e"/>
<rect x="956" y="103" width="7" height="6" fill="#3cc67e"/>
<rect x="967" y="90" width="1" height="21" fill="#fb3250"/>
<rect x="964" y="92" width="7" height="16" fill="#fb3250"/>
<rect x="965" y="93" width="5" height="14" fill="#000"/>
<rect x="975" y="89" width="1" height="54" fill="#3cc67e"/>
<rect x="972" y="92" width="7" height="47" fill="#3cc67e"/>
<rect x="983" y="112" width="1" height="33" fill="#3cc67e"/>
<rect x="980" y="139" width="7" height="4" fill="#3cc67e"/>
<rect x="991" y="131" width="1" height="18" fill="#fb3250"/>
<rect x="988" y="132" width="7" height="11" fill="#fb3250"/>
<rect x="989" y="133" width="5" height="9" fill="#000"/>
<rect x="999" y="122" width="1" height="21" fill="#3cc67e"/>
<rect x="996" y="132" width="7" height="4" fill="#3cc67e"/>
<rect x="1007" y="134" width="1" height="34" fill="#3cc67e"/>
<rect x="1004" y="136" width="7" height="24" fill="#3cc67e"/>
<rect x="1015" y="147" width="1" height="30" fill="#3cc67e"/>
<rect x="1012" y="156" width="7" height="9" fill="#3cc67e"/>
<rect x="1023" y="139" width="1" height="26" fill="#fb3250"/>
<rect x="1020" y="145" width="7" height="20" fill="#fb3250"/>
<rect x="1021" y="146" width="5" height="18" fill="#000"/>
<rect x="1031" y="130" width="1" height="19" fill="#fb3250"/>
<rect x="1028" y="143" width="7" height="2" fill="#fb3250"/>
<rect x="1039" y="131" width="1" height="27" fill="#fb3250"/>
<rect x="1036" y="136" width="7" height="7" fill="#fb3250"/>
<rect x="1037" y="137" width="5" height="5" fill="#000"/>
<rect x="1047" y="121" width="1" height="27" fill="#fb3250"/>
<rect x="1044" y="123" width="7" height="13" fill="#fb3250"/>
<rect x="1045" y="124" width="5" height="11" fill="#000"/>
<rect x="1055" y="74" width="1" height="55" fill="#3cc67e"/>
<rect x="1052" y="92" width="7" height="35" fill="#3cc67e"/>
<rect x="1063" y="104" width="1" height="39" fill="#3cc67e"/>
<rect x="1060" y="127" width="7" height="15" fill="#3cc67e"/>
<rect x="1071" y="138" width="1" height="27" fill="#3cc67e"/>
<rect x="1068" y="141" width="7" height="14" fill="#3cc67e"/>
<rect x="1079" y="137" width="1" height="20" fill="#fb3250"/>
<rect x="1076" y="152" width="7" height="3" fill="#fb3250"/>
<rect x="1077" y="153" width="5" height="1" fill="#000"/>
<rect x="1087" y="129" width="1" height="26" fill="#fb3250"/>
<rect x="1084" y="138" width="7" height="14" fill="#fb3250"/>
<rect x="1085" y="139" width="5" height="12" fill="#000"/>
<rect x="1095" y="125" width="1" height="12" fill="#3cc67e"/>
<rect x="1092" y="128" width="7" height="2" fill="#3cc67e"/>
<rect x="1103" y="124" width="1" height="24" fill="#3cc67e"/>
<rect x="1100" y="130" width="7" height="14" fill="#3cc67e"/>
<rect x="1111" y="122" width="1" height="32" fill="#fb3250"/>
<rect x="1108" y="141" width="7" height="3" fill="#fb3250"/>
<rect x="1109" y="142" width="5" height="1" fill="#000"/>
<rect x="1119" y="140" width="1" height="35" fill="#3cc67e"/>
<rect x="1116" y="141" width="7" height="34" fill="#3cc67e"/>
<rect x="1127" y="169" width="1" height="22" fill="#3cc67e"/>
<rect x="1124" y="175" width="7" height="9" fill="#3cc67e"/>
<rect x="1135" y="179" width="1" height="9" fill="#3cc67e"/>
<rect x="1132" y="183" width="7" height="3" fill="#3cc67e"/>
<rect x="1143" y="171" width="1" height="15" fill="#fb3250"/>
<rect x="1140" y="175" width="7" height="11" fill="#fb3250"/>
<rect x="1141" y="176" width="5" height="9" fill="#000"/>
<rect x="1151" y="162" width="1" height="18" fill="#fb3250"/>
<rect x="1148" y="170" width="7" height="5" fill="#fb3250"/>
<rect x="1149" y="171" width="5" height="3" fill="#000"/>
<rect x="1159" y="168" width="1" height="31" fill="#3cc67e"/>
<rect x="1156" y="170" width="7" height="29" fill="#3cc67e"/>
<rect x="1167" y="185" width="1" height="16" fill="#fb3250"/>
<rect x="1164" y="190" width="7" height="8" fill="#fb3250"/>
<rect x="1165" y="191" width="5" height="6" fill="#000"/>
<rect x="1175" y="184" width="1" height="23" fill="#fb3250"/>
<rect x="1172" y="188" width="7" height="7" fill="#fb3250"/>
<rect x="1173" y="189" width="5" height="5" fill="#000"/>
<rect x="1183" y="183" width="1" height="19" fill="#3cc67e"/>
<rect x="1180" y="188" width="7" height="14" fill="#3cc67e"/>
<rect x="1191" y="188" width="1" height="17" fill="#fb3250"/>
<rect x="1188" y="195" width="7" height="7" fill="#fb3250"/>
<rect x="1189" y="196" width="5" height="5" fill="#000"/>
<rect x="1199" y="165" width="1" height="31" fill="#fb3250"/>
<rect x="1196" y="167" width="7" height="27" fill="#fb3250"/>
<rect x="1197" y="168" width="5" height="25" fill="#000"/>
<rect x="1207" y="152" width="1" height="17" fill="#fb3250"/>
<rect x="1204" y="157" width="7" height="10" fill="#fb3250"/>
<rect x="1205" y="158" width="5" height="8" fill="#000"/>
<rect x="1215" y="162" width="1" height="33" fill="#3cc67e"/>
<rect x="1212" y="164" width="7" height="29" fill="#3cc67e"/>
<rect x="1223" y="188" width="1" height="40" fill="#3cc67e"/>
<rect x="1220" y="193" width="7" height="35" fill="#3cc67e"/>
<rect x="1231" y="219" width="1" height="53" fill="#3cc67e"/>
<rect x="1228" y="228" width="7" height="43" fill="#3cc67e"/>
<rect x="1239" y="267" width="1" height="24" fill="#3cc67e"/>
<rect x="1236" y="271" width="7" height="4" fill="#3cc67e"/>
<rect x="1247" y="273" width="1" height="15" fill="#3cc67e"/>
<rect x="1244" y="275" width="7" height="13" fill="#3cc67e"/>
<path d="M286.5 344v2M798.5 141v2M601.5 197v2M644.5 158v2M598.5 201v2M590.5 214v2M432.5 293v2M435.5 289v2M185.5 263v2M597.5 203v2M640.5 164v2M200.5 279v2M784.5 160v2M792.5 149v2M795.5 145v2M438.5 285v2M584.5 222v2M593.5 209v2M605.5 192v2M587.5 218v2M646.5 155v2M179.5 256v2M280.5 335v2M642.5 161v2M189.5 268v2M282.5 338v2M203.5 283v2M790.5 152v2M451.5 273v2M1227.5 103v2M592.5 211v2M206.5 287v2M284.5 341v2M595.5 206v2M787.5 156v2M324 354.5h22M183 261.5h1M464 261.5h1M180 258.5h1M467 258.5h1M917 77.5h2M985 77.5h2M1014 77.5h54M1082 77.5h4M638 167.5h1M914 79.5h2M989 79.5h2M1004 79.5h6M1090 79.5h4M641 163.5h1M694 140.5h6M716 140.5h6M799 140.5h2M436 288.5h1M215 294.5h3M208 290.5h2M108 233.5h2M150 233.5h2M501 233.5h2M532 233.5h2M574 233.5h1M700 139.5h16M801 139.5h2M381 335.5h2M912 80.5h2M991 80.5h13M1094 80.5h30M846 115.5h4M854 113.5h2M1206 113.5h6M861 109.5h2M1175 109.5h5M1188 109.5h6M1221 109.5h2M612 186.5h2M909 82.5h2M1129 82.5h3M105 234.5h3M152 234.5h2M499 234.5h2M534 234.5h2M572 234.5h2M218 295.5h4M431 295.5h1M234 302.5h2M421 302.5h1M300 353.5h24M346 353.5h4M582 225.5h1M236 303.5h1M420 303.5h1M690 141.5h4M722 141.5h4M932 71.5h2M948 71.5h8M962 71.5h4M969 71.5h3M805 137.5h2M924 74.5h2M977 74.5h3M594 208.5h1M919 76.5h2M982 76.5h3M1068 76.5h14M212 292.5h1M433 292.5h1M160 239.5h1M490 239.5h2M541 239.5h1M550 239.5h6M562 239.5h4M649 153.5h2M750 153.5h1M175 252.5h1M473 252.5h1M878 97.5h1M1154 97.5h4M1234 97.5h1M674 143.5h4M732 143.5h5M797 143.5h1M647 154.5h2M751 154.5h10M789 154.5h1M245 309.5h2M413 309.5h1M164 242.5h1M485 242.5h2M874 100.5h2M1164 100.5h2M1230 100.5h1M678 142.5h12M726 142.5h6M820 129.5h1M110 232.5h6M148 232.5h2M503 232.5h5M529 232.5h3M575 232.5h1M863 108.5h1M1174 108.5h1M1180 108.5h8M1223 108.5h1M884 92.5h2M1143 92.5h2M1241 92.5h3M227 298.5h2M426 298.5h2M811 134.5h2M295 352.5h5M350 352.5h3M225 297.5h2M428 297.5h1M237 304.5h2M418 304.5h2M887 90.5h5M1141 90.5h1M1246 90.5h1M929 72.5h3M956 72.5h6M972 72.5h2M658 148.5h2M745 148.5h1M793 148.5h1M934 70.5h14M966 70.5h3M824 126.5h2M877 98.5h1M1158 98.5h3M1232 98.5h2M866 106.5h2M1172 106.5h1M1225 106.5h1M95 238.5h2M159 238.5h1M492 238.5h1M540 238.5h1M566 238.5h2M668 144.5h6M737 144.5h3M796 144.5h1M102 235.5h3M154 235.5h2M497 235.5h2M536 235.5h1M571 235.5h1M858 111.5h2M1198 111.5h4M1217 111.5h2M365 344.5h2M116 231.5h5M145 231.5h3M508 231.5h21M576 231.5h1M901 86.5h2M1137 86.5h1M257 320.5h1M400 320.5h2M291 349.5h1M357 349.5h2M269 329.5h2M389 329.5h1M773 161.5h2M231 300.5h1M423 300.5h1M222 296.5h3M429 296.5h2M254 317.5h1M404 317.5h2M617 183.5h3M263 326.5h2M392 326.5h2M873 101.5h1M1166 101.5h2M1229 101.5h1M660 147.5h1M744 147.5h1M794 147.5h1M841 117.5h3M193 273.5h1M897 88.5h2M1139 88.5h1M124 229.5h2M132 229.5h8M578 229.5h1M177 254.5h1M471 254.5h1M905 84.5h2M1134 84.5h2M97 237.5h3M157 237.5h2M493 237.5h2M538 237.5h2M568 237.5h2M161 240.5h1M488 240.5h2M542 240.5h1M546 240.5h4M556 240.5h6M892 89.5h5M1140 89.5h1M126 228.5h6M579 228.5h1M633 172.5h1M769 159.5h2M785 159.5h1M761 155.5h2M788 155.5h1M916 78.5h1M987 78.5h2M1010 78.5h4M1086 78.5h4M162 241.5h2M487 241.5h1M543 241.5h3M292 350.5h2M355 350.5h2M606 191.5h1M455 269.5h1M663 145.5h5M740 145.5h2M876 99.5h1M1161 99.5h3M1231 99.5h1M816 131.5h2M807 136.5h2M911 81.5h1M1124 81.5h5M229 299.5h2M424 299.5h2M187 266.5h1M458 266.5h2M882 94.5h1M1147 94.5h2M1238 94.5h1M248 311.5h1M411 311.5h1M645 157.5h1M765 157.5h2M121 230.5h3M140 230.5h5M577 230.5h1M439 284.5h1M886 91.5h1M1142 91.5h1M1244 91.5h2M186 265.5h1M460 265.5h1M170 248.5h2M477 248.5h1M249 312.5h1M410 312.5h1M294 351.5h1M353 351.5h2M868 105.5h1M1171 105.5h1M1226 105.5h1M661 146.5h2M742 146.5h2M192 272.5h1M452 272.5h1M251 314.5h1M408 314.5h1M201 281.5h1M443 281.5h1M585 221.5h1M169 247.5h1M478 247.5h1M199 278.5h1M447 278.5h1M775 162.5h9M860 110.5h1M1194 110.5h4M1219 110.5h2M256 319.5h1M402 319.5h1M907 83.5h2M1132 83.5h2M879 96.5h1M1151 96.5h3M1235 96.5h1M803 138.5h2M181 259.5h1M466 259.5h1M624 180.5h1M903 85.5h2M1136 85.5h1M850 114.5h4M651 152.5h2M749 152.5h1M288 347.5h2M360 347.5h2M883 93.5h1M1145 93.5h2M1239 93.5h2M628 177.5h1M620 182.5h2M242 307.5h2M415 307.5h1M856 112.5h2M1202 112.5h4M1212 112.5h5M826 125.5h2M166 244.5h1M482 244.5h2M255 318.5h1M403 318.5h1M273 331.5h2M386 331.5h2M864 107.5h2M1173 107.5h1M1224 107.5h1M839 118.5h2M244 308.5h1M414 308.5h1M265 327.5h2M391 327.5h1M921 75.5h3M980 75.5h2M379 336.5h2M198 277.5h1M448 277.5h1M261 324.5h1M395 324.5h1M277 333.5h2M384 333.5h1M375 338.5h2M262 325.5h1M394 325.5h1M364 345.5h1M899 87.5h2M1138 87.5h1M240 306.5h2M416 306.5h1M184 262.5h1M463 262.5h1M232 301.5h2M422 301.5h1M926 73.5h3M974 73.5h3M100 236.5h2M156 236.5h1M495 236.5h2M537 236.5h1M570 236.5h1M615 184.5h2M608 189.5h2M188 267.5h1M457 267.5h1M461 264.5h1M600 199.5h1M603 195.5h1M869 104.5h2M1170 104.5h1M835 120.5h2M880 95.5h2M1149 95.5h2M1236 95.5h2M213 293.5h2M815 132.5h1M165 243.5h1M484 243.5h1M258 321.5h1M399 321.5h1M283 340.5h1M372 340.5h1M197 276.5h1M449 276.5h1M635 170.5h1M281 337.5h1M377 337.5h2M194 274.5h2M767 158.5h2M786 158.5h1M176 253.5h1M472 253.5h1M622 181.5h2M653 151.5h2M748 151.5h1M791 151.5h1M643 160.5h1M771 160.5h2M871 103.5h1M1169 103.5h1M837 119.5h2M202 282.5h1M442 282.5h1M368 342.5h2M167 245.5h1M480 245.5h2M833 121.5h2M872 102.5h1M1168 102.5h1M1228 102.5h1M260 323.5h1M396 323.5h2M250 313.5h1M409 313.5h1M373 339.5h2M172 249.5h1M476 249.5h1M763 156.5h2M468 257.5h1M626 178.5h2M267 328.5h2M390 328.5h1M610 188.5h1M630 175.5h1M239 305.5h1M417 305.5h1M829 123.5h2M821 128.5h2M370 341.5h2M287 346.5h1M362 346.5h2M437 287.5h1M440 283.5h2M173 250.5h1M475 250.5h1M614 185.5h1M637 168.5h1M583 224.5h1M279 334.5h1M383 334.5h1M456 268.5h1M813 133.5h2M290 348.5h1M359 348.5h1M190 270.5h1M454 270.5h1M247 310.5h1M412 310.5h1M809 135.5h2M275 332.5h2M385 332.5h1M444 280.5h2M844 116.5h2M178 255.5h1M470 255.5h1M586 220.5h1M271 330.5h2M388 330.5h1M204 285.5h1M632 173.5h1M656 149.5h2M746 149.5h1M210 291.5h2M434 291.5h1M602 196.5h1M625 179.5h1M818 130.5h2M831 122.5h2M589 216.5h1M252 315.5h1M407 315.5h1M581 226.5h1M596 205.5h1M655 150.5h1M747 150.5h1M823 127.5h1M196 275.5h1M450 275.5h1M446 279.5h1M285 343.5h1M367 343.5h1M207 289.5h1M174 251.5h1M474 251.5h1M639 166.5h1M182 260.5h1M465 260.5h1M636 169.5h1M259 322.5h1M398 322.5h1M462 263.5h1M604 194.5h1M599 200.5h1M191 271.5h1M453 271.5h1M607 190.5h1M469 256.5h1M634 171.5h1M168 246.5h1M479 246.5h1M611 187.5h1M580 227.5h1M205 286.5h1M588 217.5h1M253 316.5h1M406 316.5h1M631 174.5h1M591 213.5h1M629 176.5h1M828 124.5h1" fill="none" stroke="#dcdc0a" stroke-width="1"/>
<path d="M834 178.5h4M891 161.5h2M1212 161.5h5M634 251.5h2M964 126.5h2M1092 126.5h16M623 258.5h1M179 338.5h2M483 338.5h2M982 121.5h6M1004 121.5h8M1052 121.5h16M626 256.5h2M615 263.5h1M647 243.5h2M893 160.5h2M1204 160.5h8M786 191.5h4M163 330.5h2M496 330.5h2M850 175.5h4M1241 175.5h2M639 248.5h1M678 230.5h3M902 156.5h3M1182 156.5h4M173 335.5h2M488 335.5h2M948 132.5h2M1124 132.5h2M562 293.5h2M183 340.5h2M479 340.5h2M684 228.5h2M734 212.5h3M884 164.5h2M1222 164.5h2M978 122.5h4M1012 122.5h40M1068 122.5h8M102 298.5h2M554 298.5h2M919 149.5h1M1164 149.5h2M241 361.5h3M438 361.5h3M127 310.5h1M531 310.5h2M939 136.5h2M1134 136.5h3M324 384.5h22M822 181.5h4M974 123.5h4M1076 123.5h6M661 236.5h2M930 141.5h2M1145 141.5h3M988 120.5h16M706 221.5h4M97 296.5h3M557 296.5h2M793 189.5h3M128 311.5h2M529 311.5h2M923 146.5h1M1157 146.5h2M966 125.5h4M1086 125.5h6M932 140.5h1M1143 140.5h2M298 381.5h4M356 381.5h8M817 183.5h3M143 320.5h1M514 320.5h2M294 380.5h4M364 380.5h6M255 367.5h5M422 367.5h3M657 238.5h2M945 133.5h3M1126 133.5h3M210 354.5h4M453 354.5h2M220 356.5h6M449 356.5h2M130 312.5h2M527 312.5h2M123 308.5h2M535 308.5h1M138 317.5h2M519 317.5h1M745 207.5h2M830 179.5h4M895 159.5h2M1196 159.5h8M798 187.5h4M146 322.5h2M511 322.5h1M214 355.5h6M451 355.5h2M935 138.5h2M1139 138.5h2M713 219.5h3M860 173.5h6M1237 173.5h2M198 347.5h2M468 347.5h1M970 124.5h4M1082 124.5h4M116 305.5h2M540 305.5h1M950 131.5h3M1121 131.5h3M108 301.5h1M548 301.5h2M226 357.5h4M447 357.5h2M109 302.5h2M545 302.5h3M631 253.5h1M844 176.5h6M1243 176.5h2M260 368.5h5M418 368.5h4M302 382.5h14M350 382.5h6M121 307.5h2M536 307.5h2M611 265.5h2M941 135.5h2M1132 135.5h2M191 344.5h2M472 344.5h2M730 213.5h4M602 270.5h2M927 143.5h1M1150 143.5h3M897 158.5h3M1190 158.5h6M759 200.5h3M316 383.5h8M346 383.5h4M806 185.5h6M187 342.5h2M476 342.5h1M153 326.5h3M503 326.5h2M879 166.5h2M1226 166.5h2M100 297.5h2M556 297.5h1M106 300.5h2M550 300.5h2M202 349.5h1M464 349.5h2M193 345.5h3M471 345.5h1M649 242.5h2M111 303.5h2M543 303.5h2M915 151.5h2M1169 151.5h2M702 222.5h4M104 299.5h2M552 299.5h2M292 379.5h2M370 379.5h4M246 363.5h3M433 363.5h3M956 129.5h2M1116 129.5h2M640 247.5h2M268 370.5h2M410 370.5h4M961 127.5h3M1108 127.5h5M281 375.5h3M390 375.5h4M812 184.5h5M567 290.5h2M876 168.5h1M1229 168.5h2M905 155.5h3M1178 155.5h4M920 148.5h2M1161 148.5h3M772 196.5h2M149 324.5h2M507 324.5h2M653 240.5h2M189 343.5h2M474 343.5h2M230 358.5h4M445 358.5h2M838 177.5h6M1245 177.5h2M741 209.5h2M171 334.5h2M490 334.5h2M276 373.5h2M398 373.5h4M937 137.5h2M1137 137.5h2M926 144.5h1M1153 144.5h2M175 336.5h2M487 336.5h1M161 329.5h2M498 329.5h2M594 275.5h2M690 226.5h4M234 359.5h4M443 359.5h2M113 304.5h3M541 304.5h2M668 233.5h2M586 280.5h2M125 309.5h2M533 309.5h2M607 267.5h2M599 272.5h1M913 152.5h2M1171 152.5h2M200 348.5h2M466 348.5h2M826 180.5h4M167 332.5h2M493 332.5h2M158 328.5h3M500 328.5h1M270 371.5h3M406 371.5h4M782 192.5h4M284 376.5h2M386 376.5h4M910 153.5h3M1173 153.5h2M645 244.5h2M697 224.5h3M273 372.5h3M402 372.5h4M637 249.5h2M629 254.5h2M872 170.5h2M1232 170.5h2M564 292.5h1M908 154.5h2M1175 154.5h3M265 369.5h3M414 369.5h4M917 150.5h2M1166 150.5h3M766 198.5h3M244 362.5h2M436 362.5h2M790 190.5h3M663 235.5h2M278 374.5h3M394 374.5h4M928 142.5h2M1148 142.5h2M238 360.5h3M441 360.5h2M710 220.5h3M156 327.5h2M501 327.5h2M686 227.5h4M886 163.5h3M1220 163.5h2M933 139.5h2M1141 139.5h2M659 237.5h2M591 277.5h1M207 353.5h3M455 353.5h2M583 282.5h1M743 208.5h2M881 165.5h3M1224 165.5h2M136 316.5h2M520 316.5h2M747 206.5h2M802 186.5h4M144 321.5h2M512 321.5h2M716 218.5h2M253 366.5h2M425 366.5h3M694 225.5h3M132 313.5h1M525 313.5h2M726 214.5h4M621 259.5h2M204 351.5h2M460 351.5h2M613 264.5h2M866 172.5h4M1236 172.5h1M674 231.5h4M560 294.5h2M721 216.5h3M141 319.5h2M516 319.5h1M249 364.5h2M430 364.5h3M958 128.5h3M1113 128.5h3M874 169.5h2M1231 169.5h1M286 377.5h3M380 377.5h6M854 174.5h6M1239 174.5h2M681 229.5h3M655 239.5h2M289 378.5h3M374 378.5h6M579 284.5h2M900 157.5h2M1186 157.5h4M870 171.5h2M1234 171.5h2M739 210.5h2M140 318.5h1M517 318.5h2M148 323.5h1M509 323.5h2M774 195.5h3M889 162.5h2M1217 162.5h3M575 286.5h2M670 232.5h4M609 266.5h2M943 134.5h2M1129 134.5h3M600 271.5h2M665 234.5h3M203 350.5h1M462 350.5h2M700 223.5h2M953 130.5h3M1118 130.5h3M724 215.5h2M133 314.5h2M524 314.5h1M651 241.5h2M644 245.5h1M118 306.5h3M538 306.5h2M151 325.5h2M505 325.5h2M769 197.5h3M592 276.5h2M584 281.5h2M605 268.5h2M877 167.5h2M1228 167.5h1M597 273.5h2M589 278.5h2M577 285.5h2M206 352.5h1M457 352.5h3M718 217.5h3M924 145.5h2M1155 145.5h2M755 202.5h2M636 250.5h1M628 255.5h1M620 260.5h1M185 341.5h2M477 341.5h2M177 337.5h2M485 337.5h2M95 295.5h2M559 295.5h1M922 147.5h1M1159 147.5h2M632 252.5h2M181 339.5h2M481 339.5h2M581 283.5h2M777 194.5h3M573 287.5h2M165 331.5h2M495 331.5h1M196 346.5h2M469 346.5h2M737 211.5h2M820 182.5h2M751 204.5h2M169 333.5h2M492 333.5h1M624 257.5h2M616 262.5h2M757 201.5h2M762 199.5h4M569 289.5h2M796 188.5h2M565 291.5h2M753 203.5h2M604 269.5h1M596 274.5h1M642 246.5h2M780 193.5h2M588 279.5h1M251 365.5h2M428 365.5h2M749 205.5h2M618 261.5h2M571 288.5h2M135 315.5h1M522 315.5h2" fill="none" stroke="#f2f2f2" stroke-width="1"/>
<path d="M96.5 351v2M99.5 355v2M126.5 390v2M748.5 258v2M1228.5 230v2M532.5 385v2M536.5 378v2M1235.5 245v3M528.5 392v2M745.5 264v2M1227.5 227v3M1224.5 221v2M120.5 382v2M1234.5 243v2M102.5 359v2M1231.5 236v3M751.5 252v2M136.5 402v2M530.5 388v2M1219.5 214v2M142.5 410v2M747.5 260v2M555.5 354v2M1233.5 241v2M507.5 416v2M1241.5 258v2M1223.5 219v2M1226.5 225v2M123.5 386v2M750.5 254v2M537.5 376v2M746.5 262v2M115.5 376v2M533.5 383v2M525.5 396v2M529.5 390v2M542.5 368v2M104.5 362v2M1230.5 234v2M741.5 271v2M1225.5 223v2M766.5 238v2M1232.5 239v2M1229.5 232v2M1240.5 256v2M749.5 256v2M1243.5 261v2M107.5 366v2M1246.5 266v2M744.5 266v2M541.5 370v2M1239.5 254v2M539.5 373v2M737.5 276v2M139.5 406v2M1238.5 252v2M760.5 246v2M110.5 370v2M1245.5 264v2M763.5 242v2M743.5 268v2M1237.5 250v2M131.5 396v2M534.5 381v2M521.5 401v2M1236.5 248v2M122 385.5h1M982 168.5h1M1028 168.5h16M1070 168.5h4M954 188.5h2M1134 188.5h12M705 302.5h3M783 225.5h2M908 225.5h2M386 422.5h4M501 422.5h2M693 309.5h2M929 212.5h1M1217 212.5h1M933 209.5h1M1212 209.5h2M770 234.5h1M799 234.5h5M890 234.5h1M767 237.5h1M814 237.5h14M852 237.5h8M882 237.5h4M984 166.5h1M1012 166.5h2M1052 166.5h14M613 339.5h2M164 420.5h16M380 420.5h2M504 420.5h1M978 171.5h1M1082 171.5h4M147 414.5h2M262 414.5h6M276 414.5h5M326 414.5h6M340 414.5h8M361 414.5h3M509 414.5h1M768 236.5h1M810 236.5h4M828 236.5h24M886 236.5h2M158 419.5h6M180 419.5h8M196 419.5h5M377 419.5h3M505 419.5h1M753 251.5h2M562 347.5h2M860 238.5h22M100 357.5h1M553 357.5h1M132 398.5h1M524 398.5h1M285 411.5h2M308 411.5h8M512 411.5h1M111 372.5h1M540 372.5h1M520 403.5h1M779 227.5h2M787 227.5h2M902 227.5h3M976 172.5h2M1086 172.5h20M948 194.5h1M1157 194.5h2M149 415.5h2M244 415.5h8M258 415.5h4M332 415.5h8M364 415.5h2M508 415.5h1M97 353.5h1M556 353.5h1M133 399.5h1M523 399.5h1M970 177.5h1M1116 177.5h1M975 173.5h1M1106 173.5h4M962 182.5h2M1123 182.5h1M983 167.5h1M1014 167.5h14M1044 167.5h8M1066 167.5h4M414 430.5h4M488 430.5h2M967 179.5h1M1119 179.5h1M287 410.5h2M302 410.5h6M513 410.5h1M775 229.5h2M791 229.5h1M897 229.5h3M406 428.5h4M492 428.5h1M935 207.5h1M1191 207.5h18M924 217.5h1M1221 217.5h1M438 438.5h6M460 438.5h13M675 318.5h2M151 416.5h2M206 416.5h38M252 416.5h6M366 416.5h4M402 427.5h4M493 427.5h2M551 359.5h1M580 341.5h14M609 341.5h2M428 434.5h2M481 434.5h2M294 407.5h3M516 407.5h1M422 432.5h3M485 432.5h2M390 423.5h3M500 423.5h1M567 343.5h5M598 343.5h6M444 439.5h16M655 327.5h2M979 170.5h1M1078 170.5h4M121 384.5h1M410 429.5h4M490 429.5h2M548 362.5h1M936 206.5h1M1189 206.5h2M972 175.5h2M1112 175.5h2M140 408.5h1M292 408.5h2M297 408.5h3M515 408.5h1M701 304.5h2M153 417.5h3M204 417.5h2M370 417.5h4M636 331.5h13M651 329.5h2M690 311.5h2M736 278.5h1M991 159.5h5M944 198.5h1M1166 198.5h11M716 296.5h2M145 413.5h2M268 413.5h8M281 413.5h2M322 413.5h4M348 413.5h13M510 413.5h1M708 301.5h2M720 293.5h1M769 235.5h1M804 235.5h6M888 235.5h2M920 220.5h1M971 176.5h1M1114 176.5h2M623 334.5h3M725 288.5h1M959 184.5h1M1126 184.5h1M925 216.5h1M1220 216.5h1M712 299.5h2M916 222.5h2M572 342.5h8M594 342.5h4M604 342.5h5M773 231.5h1M794 231.5h2M894 231.5h1M957 186.5h1M1129 186.5h3M619 336.5h2M114 375.5h1M538 375.5h1M433 436.5h3M476 436.5h2M974 174.5h1M1110 174.5h2M943 199.5h1M1177 199.5h2M418 431.5h4M487 431.5h1M777 228.5h2M789 228.5h2M900 228.5h2M938 204.5h1M1186 204.5h2M143 412.5h2M283 412.5h2M316 412.5h6M511 412.5h1M393 424.5h3M498 424.5h2M927 214.5h1M103 361.5h1M549 361.5h1M703 303.5h2M759 248.5h1M910 224.5h3M930 211.5h2M1216 211.5h1M662 324.5h3M989 161.5h1M1001 161.5h2M755 250.5h2M940 202.5h1M1183 202.5h1M113 374.5h1M657 326.5h3M615 338.5h2M681 315.5h3M396 425.5h2M496 425.5h2M950 192.5h1M1154 192.5h2M124 388.5h1M558 351.5h1M739 274.5h1M774 230.5h1M792 230.5h2M895 230.5h2M630 332.5h6M947 195.5h1M1159 195.5h2M781 226.5h2M785 226.5h2M905 226.5h3M673 319.5h2M156 418.5h2M188 418.5h8M201 418.5h3M374 418.5h3M506 418.5h1M990 160.5h1M996 160.5h5M677 317.5h2M130 395.5h1M526 395.5h1M425 433.5h3M483 433.5h2M398 426.5h4M495 426.5h1M772 232.5h1M796 232.5h1M892 232.5h2M101 358.5h1M552 358.5h1M956 187.5h1M1132 187.5h2M960 183.5h2M1124 183.5h2M700 305.5h1M692 310.5h1M543 367.5h1M727 286.5h1M941 201.5h1M1181 201.5h2M430 435.5h3M478 435.5h3M135 401.5h1M696 307.5h2M730 283.5h2M986 164.5h1M1007 164.5h2M953 189.5h1M1146 189.5h4M653 328.5h2M946 196.5h1M1161 196.5h3M611 340.5h2M968 178.5h2M1117 178.5h2M771 233.5h1M797 233.5h2M891 233.5h1M710 300.5h2M918 221.5h2M669 321.5h2M980 169.5h2M1074 169.5h4M621 335.5h2M988 162.5h1M1003 162.5h2M715 297.5h1M952 190.5h1M1150 190.5h2M127 392.5h1M719 294.5h1M665 323.5h2M951 191.5h1M1152 191.5h2M436 437.5h2M473 437.5h3M945 197.5h1M1164 197.5h2M550 360.5h1M688 312.5h2M134 400.5h1M522 400.5h1M684 314.5h2M922 218.5h2M1222 218.5h1M116 378.5h1M649 330.5h2M942 200.5h1M1179 200.5h2M965 180.5h2M1120 180.5h2M722 291.5h1M985 165.5h1M1009 165.5h3M913 223.5h3M660 325.5h2M141 409.5h1M289 409.5h3M300 409.5h2M514 409.5h1M926 215.5h1M617 337.5h2M757 249.5h2M958 185.5h1M1127 185.5h2M105 364.5h1M546 364.5h1M932 210.5h1M1214 210.5h2M679 316.5h2M949 193.5h1M1156 193.5h1M382 421.5h4M503 421.5h1M934 208.5h1M1209 208.5h3M106 365.5h1M545 365.5h1M686 313.5h2M698 306.5h2M729 284.5h1M761 245.5h1M517 406.5h1M937 205.5h1M1188 205.5h1M671 320.5h2M137 404.5h1M519 404.5h1M557 352.5h1M667 322.5h2M939 203.5h1M1184 203.5h2M125 389.5h1M733 281.5h1M764 241.5h1M726 287.5h1M695 308.5h1M560 349.5h1M724 289.5h1M564 346.5h1M928 213.5h1M1218 213.5h1M964 181.5h1M1122 181.5h1M921 219.5h1M118 380.5h1M535 380.5h1M1242 260.5h1M721 292.5h1M987 163.5h1M1005 163.5h2M128 393.5h1M626 333.5h4M740 273.5h1M129 394.5h1M527 394.5h1M547 363.5h1M117 379.5h1M728 285.5h1M752 252.5h1M732 282.5h1M531 387.5h1M566 344.5h1M95 350.5h1M559 350.5h1M554 356.5h1M735 279.5h1M738 275.5h1M108 368.5h1M109 369.5h1M138 405.5h1M518 405.5h1M1244 263.5h1M98 354.5h1M723 290.5h1M762 244.5h1M119 381.5h1M561 348.5h1M565 345.5h1M765 240.5h1M734 280.5h1M112 373.5h1M544 366.5h1M714 298.5h1M718 295.5h1M742 270.5h1" fill="none" stroke="#e01ee0" stroke-width="1"/>
<rect x="932" y="64" width="7" height="1" fill="#fff"/><rect x="935" y="62" width="1" height="5" fill="#fff"/>
<rect x="325" y="417" width="7" height="1" fill="#fff"/><rect x="327" y="415" width="1" height="4" fill="#fff"/>
<rect x="1224" y="290" width="17" height="1" fill="#fff"/><rect x="1239" y="288" width="1" height="4" fill="#fff"/>
<rect x="95" y="532" width="1" height="14" fill="#3cc67e"/>
<rect x="103" y="532" width="1" height="20" fill="#3cc67e"/>
<rect x="111" y="532" width="1" height="24" fill="#3cc67e"/>
<rect x="119" y="532" width="1" height="21" fill="#3cc67e"/>
<rect x="127" y="532" width="1" height="25" fill="#3cc67e"/>
<rect x="135" y="532" width="1" height="24" fill="#3cc67e"/>
<rect x="143" y="532" width="1" height="24" fill="#3cc67e"/>
<rect x="151" y="532" width="1" height="17" fill="#3cc67e"/>
<rect x="159" y="532" width="1" height="9" fill="#3cc67e"/>
<rect x="167" y="530" width="1" height="3" fill="#fb3250"/>
<rect x="175" y="524" width="1" height="9" fill="#fb3250"/>
<rect x="183" y="518" width="1" height="15" fill="#fb3250"/>
<rect x="191" y="519" width="1" height="14" fill="#fb3250"/>
<rect x="199" y="521" width="1" height="12" fill="#fb3250"/>
<rect x="207" y="521" width="1" height="12" fill="#fb3250"/>
<rect x="215" y="517" width="1" height="16" fill="#fb3250"/>
<rect x="223" y="514" width="1" height="19" fill="#fb3250"/>
<rect x="231" y="512" width="1" height="21" fill="#fb3250"/>
<rect x="239" y="515" width="1" height="18" fill="#fb3250"/>
<rect x="247" y="519" width="1" height="14" fill="#fb3250"/>
<rect x="255" y="525" width="1" height="8" fill="#fb3250"/>
<rect x="263" y="525" width="1" height="8" fill="#fb3250"/>
<rect x="271" y="526" width="1" height="7" fill="#fb3250"/>
<rect x="279" y="529" width="1" height="4" fill="#fb3250"/>
<rect x="287" y="529" width="1" height="4" fill="#fb3250"/>
<rect x="295" y="528" width="1" height="5" fill="#fb3250"/>
<rect x="303" y="531" width="1" height="2" fill="#fb3250"/>
<rect x="311" y="528" width="1" height="5" fill="#fb3250"/>
<rect x="319" y="529" width="1" height="4" fill="#fb3250"/>
<rect x="327" y="530" width="1" height="3" fill="#fb3250"/>
<rect x="335" y="528" width="1" height="5" fill="#fb3250"/>
<rect x="343" y="522" width="1" height="11" fill="#fb3250"/>
<rect x="351" y="515" width="1" height="18" fill="#fb3250"/>
<rect x="359" y="508" width="1" height="25" fill="#fb3250"/>
<rect x="367" y="500" width="1" height="33" fill="#fb3250"/>
<rect x="375" y="497" width="1" height="36" fill="#fb3250"/>
<rect x="383" y="496" width="1" height="37" fill="#fb3250"/>
<rect x="391" y="494" width="1" height="39" fill="#fb3250"/>
<rect x="399" y="495" width="1" height="38" fill="#fb3250"/>
<rect x="407" y="497" width="1" height="36" fill="#fb3250"/>
<rect x="415" y="498" width="1" height="35" fill="#fb3250"/>
<rect x="423" y="500" width="1" height="33" fill="#fb3250"/>
<rect x="431" y="501" width="1" height="32" fill="#fb3250"/>
<rect x="439" y="501" width="1" height="32" fill="#fb3250"/>
<rect x="447" y="506" width="1" height="27" fill="#fb3250"/>
<rect x="455" y="506" width="1" height="27" fill="#fb3250"/>
<rect x="463" y="508" width="1" height="25" fill="#fb3250"/>
<rect x="471" y="507" width="1" height="26" fill="#fb3250"/>
<rect x="479" y="512" width="1" height="21" fill="#fb3250"/>
<rect x="487" y="515" width="1" height="18" fill="#fb3250"/>
<rect x="495" y="518" width="1" height="15" fill="#fb3250"/>
<rect x="503" y="522" width="1" height="11" fill="#fb3250"/>
<rect x="511" y="527" width="1" height="6" fill="#fb3250"/>
<rect x="519" y="532" width="1" height="2" fill="#3cc67e"/>
<rect x="527" y="532" width="1" height="3" fill="#3cc67e"/>
<rect x="535" y="532" width="1" height="8" fill="#3cc67e"/>
<rect x="543" y="532" width="1" height="15" fill="#3cc67e"/>
<rect x="551" y="532" width="1" height="5" fill="#3cc67e"/>
<rect x="559" y="532" width="1" height="6" fill="#3cc67e"/>
<rect x="567" y="532" width="1" height="2" fill="#3cc67e"/>
<rect x="575" y="527" width="1" height="6" fill="#fb3250"/>
<rect x="583" y="520" width="1" height="13" fill="#fb3250"/>
<rect x="591" y="512" width="1" height="21" fill="#fb3250"/>
<rect x="599" y="506" width="1" height="27" fill="#fb3250"/>
<rect x="607" y="506" width="1" height="27" fill="#fb3250"/>
<rect x="615" y="512" width="1" height="21" fill="#fb3250"/>
<rect x="623" y="518" width="1" height="15" fill="#fb3250"/>
<rect x="631" y="520" width="1" height="13" fill="#fb3250"/>
<rect x="639" y="519" width="1" height="14" fill="#fb3250"/>
<rect x="647" y="516" width="1" height="17" fill="#fb3250"/>
<rect x="655" y="522" width="1" height="11" fill="#fb3250"/>
<rect x="663" y="527" width="1" height="6" fill="#fb3250"/>
<rect x="671" y="532" width="1" height="8" fill="#3cc67e"/>
<rect x="679" y="532" width="1" height="15" fill="#3cc67e"/>
<rect x="687" y="532" width="1" height="23" fill="#3cc67e"/>
<rect x="695" y="532" width="1" height="23" fill="#3cc67e"/>
<rect x="703" y="532" width="1" height="23" fill="#3cc67e"/>
<rect x="711" y="532" width="1" height="22" fill="#3cc67e"/>
<rect x="719" y="532" width="1" height="27" fill="#3cc67e"/>
<rect x="727" y="532" width="1" height="28" fill="#3cc67e"/>
<rect x="735" y="532" width="1" height="26" fill="#3cc67e"/>
<rect x="743" y="532" width="1" height="22" fill="#3cc67e"/>
<rect x="751" y="532" width="1" height="17" fill="#3cc67e"/>
<rect x="759" y="532" width="1" height="10" fill="#3cc67e"/>
<rect x="767" y="532" width="1" height="7" fill="#3cc67e"/>
<rect x="775" y="532" width="1" height="6" fill="#3cc67e"/>
<rect x="783" y="532" width="1" height="5" fill="#3cc67e"/>
<rect x="791" y="524" width="1" height="9" fill="#fb3250"/>
<rect x="799" y="517" width="1" height="16" fill="#fb3250"/>
<rect x="807" y="518" width="1" height="15" fill="#fb3250"/>
<rect x="815" y="519" width="1" height="14" fill="#fb3250"/>
<rect x="823" y="520" width="1" height="13" fill="#fb3250"/>
<rect x="831" y="522" width="1" height="11" fill="#fb3250"/>
<rect x="839" y="525" width="1" height="8" fill="#fb3250"/>
<rect x="847" y="528" width="1" height="5" fill="#fb3250"/>
<rect x="855" y="531" width="1" height="2" fill="#fb3250"/>
<rect x="863" y="530" width="1" height="3" fill="#fb3250"/>
<rect x="871" y="531" width="1" height="2" fill="#fb3250"/>
<rect x="879" y="525" width="1" height="8" fill="#fb3250"/>
<rect x="887" y="525" width="1" height="8" fill="#fb3250"/>
<rect x="895" y="532" width="1" height="2" fill="#3cc67e"/>
<rect x="903" y="532" width="1" height="3" fill="#3cc67e"/>
<rect x="911" y="532" width="1" height="2" fill="#3cc67e"/>
<rect x="919" y="531" width="1" height="2" fill="#fb3250"/>
<rect x="927" y="527" width="1" height="6" fill="#fb3250"/>
<rect x="935" y="526" width="1" height="7" fill="#fb3250"/>
<rect x="943" y="530" width="1" height="3" fill="#fb3250"/>
<rect x="951" y="532" width="1" height="3" fill="#3cc67e"/>
<rect x="959" y="532" width="1" height="8" fill="#3cc67e"/>
<rect x="967" y="532" width="1" height="7" fill="#3cc67e"/>
<rect x="975" y="532" width="1" height="19" fill="#3cc67e"/>
<rect x="983" y="532" width="1" height="27" fill="#3cc67e"/>
<rect x="991" y="532" width="1" height="29" fill="#3cc67e"/>
<rect x="999" y="532" width="1" height="30" fill="#3cc67e"/>
<rect x="1007" y="532" width="1" height="36" fill="#3cc67e"/>
<rect x="1015" y="532" width="1" height="39" fill="#3cc67e"/>
<rect x="1023" y="532" width="1" height="34" fill="#3cc67e"/>
<rect x="1031" y="532" width="1" height="30" fill="#3cc67e"/>
<rect x="1039" y="532" width="1" height="24" fill="#3cc67e"/>
<rect x="1047" y="532" width="1" height="16" fill="#3cc67e"/>
<rect x="1055" y="532" width="1" height="11" fill="#3cc67e"/>
<rect x="1063" y="532" width="1" height="12" fill="#3cc67e"/>
<rect x="1071" y="532" width="1" height="15" fill="#3cc67e"/>
<rect x="1079" y="532" width="1" height="15" fill="#3cc67e"/>
<rect x="1087" y="532" width="1" height="11" fill="#3cc67e"/>
<rect x="1095" y="532" width="1" height="7" fill="#3cc67e"/>
<rect x="1103" y="532" width="1" height="7" fill="#3cc67e"/>
<rect x="1111" y="532" width="1" height="6" fill="#3cc67e"/>
<rect x="1119" y="532" width="1" height="13" fill="#3cc67e"/>
<rect x="1127" y="532" width="1" height="19" fill="#3cc67e"/>
<rect x="1135" y="532" width="1" height="23" fill="#3cc67e"/>
<rect x="1143" y="532" width="1" height="21" fill="#3cc67e"/>
<rect x="1151" y="532" width="1" height="17" fill="#3cc67e"/>
<rect x="1159" y="532" width="1" height="21" fill="#3cc67e"/>
<rect x="1167" y="532" width="1" height="20" fill="#3cc67e"/>
<rect x="1175" y="532" width="1" height="17" fill="#3cc67e"/>
<rect x="1183" y="532" width="1" height="18" fill="#3cc67e"/>
<rect x="1191" y="532" width="1" height="15" fill="#3cc67e"/>
<rect x="1199" y="532" width="1" height="6" fill="#3cc67e"/>
<rect x="1207" y="528" width="1" height="5" fill="#fb3250"/>
<rect x="1215" y="531" width="1" height="2" fill="#fb3250"/>
<rect x="1223" y="532" width="1" height="10" fill="#3cc67e"/>
<rect x="1231" y="532" width="1" height="27" fill="#3cc67e"/>
<rect x="1239" y="532" width="1" height="35" fill="#3cc67e"/>
<rect x="1247" y="532" width="1" height="41" fill="#3cc67e"/>
<path d="M589 489.5h2M721 489.5h3M884 489.5h40M956 489.5h13M399 532.5h1M1100 532.5h14M444 508.5h2M1011 508.5h2M490 493.5h4M542 493.5h14M572 493.5h8M732 493.5h2M828 493.5h8M977 493.5h3M116 572.5h2M222 572.5h4M371 548.5h2M1166 548.5h4M652 472.5h8M668 472.5h6M138 580.5h4M182 580.5h6M508 490.5h24M587 490.5h2M724 490.5h2M876 490.5h8M969 490.5h3M593 487.5h3M716 487.5h2M346 558.5h4M1230 558.5h2M602 484.5h4M708 484.5h2M150 583.5h6M170 583.5h4M395 534.5h2M1118 534.5h4M460 502.5h2M780 502.5h6M1000 502.5h2M340 559.5h6M1232 559.5h2M591 488.5h2M718 488.5h3M924 488.5h32M486 494.5h4M556 494.5h16M734 494.5h3M820 494.5h8M980 494.5h2M474 497.5h4M742 497.5h4M804 497.5h6M988 497.5h2M156 584.5h14M421 519.5h2M1031 519.5h3M378 544.5h2M1150 544.5h4M110 570.5h3M230 570.5h4M332 560.5h8M1234 560.5h2M358 554.5h3M1188 554.5h8M1202 554.5h4M1212 554.5h8M353 556.5h3M1225 556.5h3M500 491.5h8M532 491.5h6M585 491.5h2M726 491.5h3M844 491.5h32M972 491.5h2M482 495.5h4M737 495.5h3M814 495.5h6M982 495.5h3M134 579.5h4M188 579.5h8M462 501.5h3M764 501.5h16M786 501.5h4M998 501.5h2M400 531.5h2M1092 531.5h8M376 545.5h2M1154 545.5h4M660 471.5h8M126 576.5h3M206 576.5h4M425 517.5h2M1027 517.5h2M494 492.5h6M538 492.5h4M580 492.5h5M729 492.5h3M836 492.5h8M974 492.5h3M350 557.5h3M1228 557.5h2M409 526.5h2M1060 526.5h6M427 516.5h2M1025 516.5h2M636 475.5h6M682 475.5h4M308 561.5h24M1236 561.5h1M646 473.5h6M674 473.5h4M642 474.5h4M678 474.5h4M614 480.5h4M697 480.5h3M129 577.5h3M202 577.5h4M260 564.5h16M1240 564.5h2M470 498.5h4M746 498.5h4M798 498.5h6M990 498.5h3M356 555.5h2M1196 555.5h6M1220 555.5h5M407 527.5h2M1066 527.5h4M415 523.5h1M1046 523.5h4M386 539.5h2M1134 539.5h3M292 562.5h16M1237 562.5h2M118 573.5h3M218 573.5h4M423 518.5h2M1029 518.5h2M391 536.5h2M1126 536.5h3M132 578.5h2M196 578.5h6M626 477.5h4M689 477.5h3M95 565.5h3M252 565.5h8M1242 565.5h2M383 541.5h1M1140 541.5h2M365 551.5h2M1177 551.5h3M622 478.5h4M692 478.5h2M478 496.5h4M740 496.5h2M810 496.5h4M985 496.5h3M468 499.5h2M750 499.5h6M794 499.5h4M993 499.5h3M102 567.5h3M242 567.5h4M1245 567.5h2M375 546.5h1M1158 546.5h4M363 552.5h2M1180 552.5h2M598 485.5h4M710 485.5h3M452 505.5h2M1005 505.5h2M404 529.5h1M1076 529.5h8M369 549.5h2M1170 549.5h4M612 481.5h2M700 481.5h2M405 528.5h2M1070 528.5h6M413 524.5h2M1050 524.5h4M630 476.5h6M686 476.5h3M402 530.5h2M1084 530.5h8M367 550.5h2M1174 550.5h3M606 483.5h3M705 483.5h3M121 574.5h3M214 574.5h4M411 525.5h2M1054 525.5h6M361 553.5h2M1182 553.5h6M1206 553.5h6M609 482.5h3M702 482.5h3M105 568.5h3M238 568.5h4M618 479.5h4M694 479.5h3M435 512.5h2M1018 512.5h2M142 581.5h4M178 581.5h4M446 507.5h3M1009 507.5h2M465 500.5h3M756 500.5h8M790 500.5h4M996 500.5h2M441 509.5h3M1013 509.5h2M596 486.5h2M713 486.5h3M276 563.5h16M1239 563.5h1M397 533.5h2M1114 533.5h4M98 566.5h4M246 566.5h6M1244 566.5h1M384 540.5h2M1137 540.5h3M431 514.5h2M1021 514.5h2M113 571.5h3M226 571.5h4M418 521.5h2M1038 521.5h4M437 511.5h2M1016 511.5h2M381 542.5h2M1142 542.5h4M457 503.5h3M1002 503.5h2M146 582.5h4M174 582.5h4M420 520.5h1M1034 520.5h4M389 537.5h2M1129 537.5h3M393 535.5h2M1122 535.5h4M108 569.5h2M234 569.5h4M454 504.5h3M1004 504.5h1M373 547.5h2M1162 547.5h4M416 522.5h2M1042 522.5h4M380 543.5h1M1146 543.5h4M449 506.5h3M1007 506.5h2M124 575.5h2M210 575.5h4M439 510.5h2M1015 510.5h1M429 515.5h2M1023 515.5h2M388 538.5h1M1132 538.5h2M433 513.5h2M1020 513.5h1" fill="none" stroke="#dcdc0a" stroke-width="1"/>
<path d="M1224.5 561v2M1235.5 575v2M1227.5 565v2M1230.5 569v2M363.5 537v2M460 489.5h2M516 489.5h2M578 489.5h1M689 489.5h3M812 489.5h8M844 489.5h8M873 489.5h2M895 489.5h5M908 489.5h13M950 489.5h3M98 573.5h2M188 573.5h8M1233 573.5h1M468 486.5h2M506 486.5h4M582 486.5h1M685 486.5h1M879 486.5h5M889 486.5h2M926 486.5h6M938 486.5h4M414 505.5h3M727 505.5h3M758 505.5h6M980 505.5h1M644 467.5h2M652 467.5h6M367 533.5h1M1028 533.5h8M1070 533.5h3M371 530.5h1M1015 530.5h3M1052 530.5h8M228 561.5h2M254 561.5h22M284 561.5h8M300 561.5h8M1182 561.5h6M1192 561.5h2M454 491.5h3M524 491.5h5M574 491.5h2M694 491.5h4M799 491.5h5M956 491.5h2M431 498.5h2M540 498.5h2M546 498.5h2M716 498.5h1M789 498.5h1M973 498.5h1M427 500.5h2M543 500.5h1M719 500.5h1M787 500.5h1M975 500.5h1M462 488.5h3M513 488.5h3M579 488.5h1M687 488.5h2M820 488.5h24M875 488.5h2M893 488.5h2M921 488.5h3M946 488.5h4M412 506.5h2M730 506.5h4M754 506.5h4M981 506.5h1M422 502.5h3M722 502.5h2M785 502.5h1M977 502.5h1M370 531.5h1M1018 531.5h4M1044 531.5h8M1060 531.5h6M96 572.5h2M196 572.5h6M1232 572.5h1M407 508.5h2M983 508.5h2M236 559.5h14M329 559.5h3M1172 559.5h6M1195 559.5h1M1222 559.5h1M108 579.5h1M173 579.5h2M1238 579.5h1M450 492.5h4M529 492.5h3M572 492.5h2M698 492.5h4M797 492.5h2M958 492.5h10M225 562.5h3M276 562.5h8M1188 562.5h4M470 485.5h14M492 485.5h14M583 485.5h1M684 485.5h1M884 485.5h5M932 485.5h6M409 507.5h3M734 507.5h20M982 507.5h1M417 504.5h3M725 504.5h2M764 504.5h20M979 504.5h1M457 490.5h3M518 490.5h6M576 490.5h2M692 490.5h2M804 490.5h8M852 490.5h21M900 490.5h8M953 490.5h3M230 560.5h6M250 560.5h4M292 560.5h8M308 560.5h21M1178 560.5h4M1194 560.5h1M1223 560.5h1M368 532.5h2M1022 532.5h6M1036 532.5h8M1066 532.5h4M366 534.5h1M1073 534.5h3M1094 534.5h14M346 552.5h1M1148 552.5h5M1207 552.5h3M442 494.5h4M534 494.5h2M566 494.5h3M706 494.5h4M794 494.5h2M969 494.5h1M134 590.5h6M153 590.5h2M604 471.5h2M618 471.5h4M628 471.5h6M666 471.5h1M433 497.5h3M539 497.5h1M548 497.5h1M558 497.5h3M714 497.5h2M790 497.5h1M972 497.5h1M348 550.5h2M1135 550.5h5M354 546.5h1M1127 546.5h2M140 591.5h13M95 571.5h1M202 571.5h4M1231 571.5h1M641 468.5h3M658 468.5h4M589 480.5h1M678 480.5h1M347 551.5h1M1140 551.5h8M484 484.5h8M584 484.5h1M682 484.5h2M436 496.5h2M538 496.5h1M549 496.5h2M554 496.5h4M561 496.5h3M712 496.5h2M791 496.5h1M971 496.5h1M585 483.5h1M681 483.5h1M601 472.5h3M622 472.5h6M667 472.5h1M638 469.5h3M662 469.5h2M446 493.5h4M532 493.5h2M569 493.5h3M702 493.5h4M796 493.5h1M968 493.5h1M465 487.5h3M510 487.5h3M580 487.5h2M686 487.5h1M877 487.5h2M891 487.5h2M924 487.5h2M942 487.5h4M606 470.5h12M634 470.5h4M664 470.5h2M351 548.5h1M1131 548.5h2M127 588.5h3M157 588.5h2M337 556.5h3M1159 556.5h3M1199 556.5h2M1218 556.5h1M383 523.5h1M1007 523.5h1M403 510.5h2M987 510.5h2M111 581.5h2M169 581.5h2M1240 581.5h1M374 528.5h1M1013 528.5h1M394 515.5h2M998 515.5h2M123 586.5h2M160 586.5h2M1245 586.5h1M215 566.5h2M332 558.5h2M1166 558.5h6M1196 558.5h2M1220 558.5h2M438 495.5h4M536 495.5h2M551 495.5h3M564 495.5h2M710 495.5h2M792 495.5h2M970 495.5h1M364 536.5h1M1078 536.5h12M1112 536.5h2M372 529.5h2M1014 529.5h1M116 583.5h2M165 583.5h2M1242 583.5h1M342 554.5h2M1155 554.5h2M1203 554.5h2M1214 554.5h2M344 553.5h2M1153 553.5h2M1205 553.5h2M1210 553.5h4M388 519.5h2M1003 519.5h1M113 582.5h3M167 582.5h2M1241 582.5h1M340 555.5h2M1157 555.5h2M1201 555.5h2M1216 555.5h2M592 477.5h2M674 477.5h1M429 499.5h2M542 499.5h1M544 499.5h2M717 499.5h2M788 499.5h1M974 499.5h1M125 587.5h2M159 587.5h1M1246 587.5h1M646 466.5h6M100 574.5h1M183 574.5h5M1234 574.5h1M365 535.5h1M1076 535.5h2M1090 535.5h4M1108 535.5h4M597 474.5h2M670 474.5h1M118 584.5h3M164 584.5h1M1243 584.5h1M206 570.5h3M586 482.5h2M680 482.5h1M104 577.5h2M177 577.5h2M1236 577.5h1M387 520.5h1M1004 520.5h1M379 525.5h2M1009 525.5h1M399 512.5h2M991 512.5h2M358 543.5h1M1123 543.5h1M222 563.5h3M1225 563.5h1M391 517.5h1M1001 517.5h1M106 578.5h2M175 578.5h2M1237 578.5h1M130 589.5h4M155 589.5h2M390 518.5h1M1002 518.5h1M355 545.5h1M1126 545.5h1M359 542.5h1M1122 542.5h1M425 501.5h2M720 501.5h2M786 501.5h1M976 501.5h1M103 576.5h1M179 576.5h2M334 557.5h3M1162 557.5h4M1198 557.5h1M1219 557.5h1M377 526.5h2M1010 526.5h2M594 476.5h2M672 476.5h2M375 527.5h2M1012 527.5h1M420 503.5h2M724 503.5h1M784 503.5h1M978 503.5h1M405 509.5h2M985 509.5h2M109 580.5h2M171 580.5h2M1239 580.5h1M121 585.5h2M162 585.5h2M1244 585.5h1M217 565.5h3M397 513.5h2M993 513.5h3M362 539.5h1M1117 539.5h2M361 540.5h1M1119 540.5h1M396 514.5h1M996 514.5h2M401 511.5h2M989 511.5h2M101 575.5h2M181 575.5h2M588 481.5h1M679 481.5h1M599 473.5h2M668 473.5h2M392 516.5h2M1000 516.5h1M213 567.5h2M1228 567.5h1M381 524.5h2M1008 524.5h1M352 547.5h2M1129 547.5h2M350 549.5h1M1133 549.5h2M209 569.5h2M356 544.5h2M1124 544.5h2M220 564.5h2M1226 564.5h1M360 541.5h1M1120 541.5h2M590 479.5h1M676 479.5h2M211 568.5h2M1229 568.5h1M384 522.5h2M1006 522.5h1M1116 538.5h1M1114 537.5h2M596 475.5h1M671 475.5h1M386 521.5h1M1005 521.5h1M591 478.5h1M675 478.5h1" fill="none" stroke="#f2f2f2" stroke-width="1"/>
<path d="M683.5 668v2M173.5 681v2M169.5 686v2M757.5 666v2M1201.5 685v2M1205.5 680v2M667.5 651v2M179.5 674v2M753.5 671v2M95 685.5h1M170 685.5h1M717 685.5h2M734 685.5h3M1007 685.5h2M1038 685.5h2M1118 685.5h3M1237 685.5h2M708 682.5h5M741 682.5h2M1002 682.5h2M1043 682.5h1M1110 682.5h3M1204 682.5h1M1231 682.5h2M101 689.5h2M167 689.5h1M1020 689.5h6M1127 689.5h2M1198 689.5h1M1246 689.5h1M391 641.5h3M505 641.5h2M612 641.5h16M634 641.5h4M650 641.5h4M799 641.5h5M828 641.5h8M122 695.5h4M160 695.5h1M1164 695.5h16M1188 695.5h4M394 640.5h4M502 640.5h3M638 640.5h12M804 640.5h24M373 650.5h2M524 650.5h2M591 650.5h1M666 650.5h1M779 650.5h2M898 650.5h2M932 650.5h14M389 642.5h2M507 642.5h2M606 642.5h6M628 642.5h6M654 642.5h2M797 642.5h2M836 642.5h8M876 642.5h8M326 681.5h10M703 681.5h5M743 681.5h1M1000 681.5h2M1044 681.5h2M1106 681.5h4M1229 681.5h2M177 677.5h1M297 677.5h3M341 677.5h2M695 677.5h2M748 677.5h1M994 677.5h2M1051 677.5h2M1078 677.5h4M1209 677.5h3M1220 677.5h2M98 687.5h2M724 687.5h6M1012 687.5h2M1030 687.5h4M1123 687.5h2M1200 687.5h1M1241 687.5h3M204 664.5h6M258 664.5h2M356 664.5h1M543 664.5h5M564 664.5h4M679 664.5h1M759 664.5h1M978 664.5h1M418 635.5h4M478 635.5h6M402 638.5h4M494 638.5h4M422 634.5h14M444 634.5h16M474 634.5h4M178 676.5h1M292 676.5h5M343 676.5h1M693 676.5h2M749 676.5h1M992 676.5h2M1053 676.5h2M1074 676.5h4M1212 676.5h2M1217 676.5h3M189 667.5h2M263 667.5h2M353 667.5h1M682 667.5h1M981 667.5h1M176 678.5h1M300 678.5h2M340 678.5h1M697 678.5h2M746 678.5h2M996 678.5h1M1049 678.5h2M1082 678.5h4M1207 678.5h2M1222 678.5h3M96 686.5h2M719 686.5h5M730 686.5h4M1009 686.5h3M1034 686.5h4M1121 686.5h2M1239 686.5h2M229 656.5h2M245 656.5h2M365 656.5h1M535 656.5h1M581 656.5h2M671 656.5h1M768 656.5h2M964 656.5h4M108 692.5h2M164 692.5h1M1134 692.5h6M1148 692.5h6M1194 692.5h2M387 643.5h2M509 643.5h2M604 643.5h2M656 643.5h2M795 643.5h2M844 643.5h8M868 643.5h8M884 643.5h4M383 645.5h2M513 645.5h2M599 645.5h2M660 645.5h1M790 645.5h3M890 645.5h2M132 697.5h6M156 697.5h2M172 683.5h1M713 683.5h2M739 683.5h2M1004 683.5h1M1042 683.5h1M1113 683.5h3M1203 683.5h1M1233 683.5h2M372 651.5h1M526 651.5h2M589 651.5h2M777 651.5h2M900 651.5h1M926 651.5h6M946 651.5h4M385 644.5h2M511 644.5h2M601 644.5h3M658 644.5h2M793 644.5h2M852 644.5h16M888 644.5h2M175 679.5h1M302 679.5h20M338 679.5h2M699 679.5h2M745 679.5h1M997 679.5h2M1047 679.5h2M1086 679.5h14M1206 679.5h1M1225 679.5h2M181 672.5h1M276 672.5h2M348 672.5h1M686 672.5h1M987 672.5h1M375 649.5h2M521 649.5h3M592 649.5h2M665 649.5h1M781 649.5h2M896 649.5h2M214 662.5h3M255 662.5h1M358 662.5h1M541 662.5h1M570 662.5h2M677 662.5h1M761 662.5h1M976 662.5h1M174 680.5h1M322 680.5h4M336 680.5h2M701 680.5h2M744 680.5h1M999 680.5h1M1046 680.5h1M1100 680.5h6M1227 680.5h2M234 654.5h4M241 654.5h2M367 654.5h1M532 654.5h1M584 654.5h2M669 654.5h1M772 654.5h1M908 654.5h8M956 654.5h2M231 655.5h3M243 655.5h2M366 655.5h1M533 655.5h2M583 655.5h1M670 655.5h1M770 655.5h2M958 655.5h6M381 646.5h2M515 646.5h2M597 646.5h2M661 646.5h2M788 646.5h2M892 646.5h1M406 637.5h6M490 637.5h4M436 633.5h8M460 633.5h14M370 652.5h2M528 652.5h2M588 652.5h1M775 652.5h2M901 652.5h2M922 652.5h4M950 652.5h3M225 658.5h2M248 658.5h2M362 658.5h2M537 658.5h1M577 658.5h2M673 658.5h1M766 658.5h1M970 658.5h2M227 657.5h2M247 657.5h1M364 657.5h1M536 657.5h1M579 657.5h2M672 657.5h1M767 657.5h1M968 657.5h2M126 696.5h6M158 696.5h2M1180 696.5h8M398 639.5h4M498 639.5h4M238 653.5h3M368 653.5h2M530 653.5h2M586 653.5h2M668 653.5h1M773 653.5h2M903 653.5h5M916 653.5h6M953 653.5h3M100 688.5h1M168 688.5h1M1014 688.5h6M1026 688.5h4M1125 688.5h2M1199 688.5h1M1244 688.5h2M116 694.5h6M161 694.5h1M1158 694.5h6M1192 694.5h1M142 699.5h11M110 693.5h6M162 693.5h2M1140 693.5h8M1154 693.5h4M1193 693.5h1M222 659.5h3M250 659.5h2M361 659.5h1M538 659.5h1M575 659.5h2M674 659.5h1M765 659.5h1M972 659.5h1M105 691.5h3M165 691.5h1M1132 691.5h2M1196 691.5h1M185 669.5h2M268 669.5h2M351 669.5h1M755 669.5h1M983 669.5h1M196 665.5h8M260 665.5h1M355 665.5h1M548 665.5h16M680 665.5h1M758 665.5h1M979 665.5h1M171 684.5h1M715 684.5h2M737 684.5h2M1005 684.5h2M1040 684.5h2M1116 684.5h2M1202 684.5h1M1235 684.5h2M103 690.5h2M166 690.5h1M1129 690.5h3M1197 690.5h1M282 674.5h4M345 674.5h1M689 674.5h2M751 674.5h1M990 674.5h1M1060 674.5h8M180 673.5h1M278 673.5h4M346 673.5h2M687 673.5h2M752 673.5h1M988 673.5h2M379 647.5h2M517 647.5h2M596 647.5h1M663 647.5h1M785 647.5h3M893 647.5h2M217 661.5h3M253 661.5h2M359 661.5h1M540 661.5h1M572 661.5h1M676 661.5h1M762 661.5h2M975 661.5h1M220 660.5h2M252 660.5h1M360 660.5h1M539 660.5h1M573 660.5h2M675 660.5h1M764 660.5h1M973 660.5h2M286 675.5h6M344 675.5h1M691 675.5h2M750 675.5h1M991 675.5h1M1055 675.5h5M1068 675.5h6M1214 675.5h3M210 663.5h4M256 663.5h2M357 663.5h1M542 663.5h1M568 663.5h2M678 663.5h1M760 663.5h1M977 663.5h1M412 636.5h6M484 636.5h6M377 648.5h2M519 648.5h2M594 648.5h2M664 648.5h1M783 648.5h2M895 648.5h1M138 698.5h4M153 698.5h3M191 666.5h5M261 666.5h2M354 666.5h1M681 666.5h1M980 666.5h1M183 670.5h2M270 670.5h3M350 670.5h1M684 670.5h1M754 670.5h1M984 670.5h2M182 671.5h1M273 671.5h3M349 671.5h1M685 671.5h1M986 671.5h1M187 668.5h2M265 668.5h3M352 668.5h1M756 668.5h1M982 668.5h1" fill="none" stroke="#dcdc0a" stroke-width="1"/>
<path d="M969.5 661v2M1196.5 680v2M550.5 668v2M538.5 671v2M162.5 684v2M979.5 678v2M967.5 657v2M549.5 670v2M750.5 659v2M670.5 671v2M545.5 676v2M515.5 654v2M161.5 686v2M659.5 653v2M1197.5 677v3M179.5 656v2M669.5 669v2M170.5 669v2M893.5 655v2M1216.5 670v2M166.5 676v2M982.5 682v2M1044.5 671v2M755.5 652v2M253.5 670v2M1192.5 690v2M1204.5 664v2M1040.5 678v2M254.5 672v2M165.5 678v2M349.5 657v2M1217.5 672v2M1199.5 673v2M971.5 665v2M544.5 678v2M160.5 688v2M252.5 668v2M738.5 677v2M540.5 674v2M1219.5 675v2M973.5 669v2M1045.5 669v2M1041.5 676v2M748.5 662v2M542.5 678v2M744.5 668v2M740.5 674v2M299.5 681v2M174.5 662v2M1198.5 675v2M339.5 673v2M894.5 657v2M665.5 661v2M155.5 694v2M1222.5 680v2M1191.5 692v2M664.5 659v2M667.5 665v2M531.5 661v2M348.5 659v2M1115.5 688v2M173.5 664v2M888.5 646v2M344.5 666v2M169.5 671v2M541.5 676v2M172.5 666v2M248.5 661v2M1221.5 678v2M168.5 673v2M571.5 654v2M164.5 680v2M970.5 663v2M547.5 673v2M163.5 682v2M972.5 667v2M649.5 641v2M1195.5 682v3M1194.5 685v2M1206.5 660v2M758.5 648v2M1202.5 667v2M666.5 663v2M890.5 650v2M1205.5 662v2M1227.5 686v2M1201.5 669v2M350.5 655v2M346.5 662v2M250.5 665v2M342.5 669v2M653.5 646v2M736.5 680v2M668.5 667v2M889.5 648v2M892.5 653v2M752.5 656v2M336.5 677v2M249.5 663v2M537.5 669v2M974.5 671v2M1046.5 667v2M1193.5 687v3M742.5 671v2M1042.5 674v2M1209.5 661v2M976.5 674v2M536.5 667v2M968.5 659v2M746.5 665v2M1213.5 666v2M1200.5 671v2M345.5 664v2M369 641.5h3M497 641.5h2M588 641.5h1M620 641.5h1M632 641.5h2M782 641.5h2M820 641.5h8M868 641.5h8M880 641.5h2M182 653.5h1M185 653.5h2M221 653.5h2M239 653.5h1M352 653.5h1M514 653.5h1M572 653.5h1M916 653.5h2M946 653.5h2M390 633.5h6M412 633.5h16M440 633.5h2M455 633.5h5M472 633.5h1M798 633.5h2M365 643.5h2M501 643.5h2M584 643.5h2M623 643.5h5M650 643.5h1M772 643.5h6M834 643.5h4M861 643.5h2M884 643.5h1M192 657.5h1M215 657.5h1M244 657.5h1M517 657.5h1M526 657.5h2M569 657.5h1M662 657.5h1M911 657.5h1M953 657.5h2M966 657.5h1M284 680.5h5M298 680.5h1M309 680.5h1M316 680.5h2M333 680.5h2M543 680.5h1M678 680.5h1M980 680.5h1M1039 680.5h1M1076 680.5h2M685 687.5h1M694 687.5h6M712 687.5h2M730 687.5h1M990 687.5h3M1027 687.5h1M1114 687.5h1M176 660.5h1M196 660.5h1M212 660.5h1M247 660.5h1M530 660.5h1M566 660.5h1M898 660.5h4M905 660.5h2M959 660.5h2M1208 660.5h1M300 683.5h1M306 683.5h1M324 683.5h2M328 683.5h2M681 683.5h1M734 683.5h1M1033 683.5h2M1102 683.5h6M1224 683.5h1M363 644.5h2M503 644.5h1M583 644.5h1M651 644.5h1M766 644.5h6M838 644.5h6M860 644.5h1M885 644.5h2M98 695.5h2M1012 695.5h4M1124 695.5h2M1142 695.5h2M1157 695.5h1M1174 695.5h4M1187 695.5h2M1241 695.5h2M229 648.5h2M232 648.5h2M357 648.5h1M508 648.5h2M578 648.5h1M654 648.5h1M926 648.5h6M937 648.5h2M279 679.5h5M289 679.5h3M297 679.5h1M310 679.5h1M313 679.5h3M335 679.5h1M677 679.5h1M737 679.5h1M1073 679.5h3M158 691.5h1M718 691.5h1M722 691.5h4M1001 691.5h2M1021 691.5h2M1117 691.5h1M1149 691.5h2M1152 691.5h1M1231 691.5h2M374 639.5h3M479 639.5h13M591 639.5h2M616 639.5h2M636 639.5h1M646 639.5h2M786 639.5h2M810 639.5h4M303 686.5h1M684 686.5h1M700 686.5h12M731 686.5h1M988 686.5h2M1028 686.5h2M1113 686.5h1M382 636.5h3M445 636.5h2M449 636.5h2M476 636.5h1M598 636.5h6M609 636.5h3M791 636.5h2M804 636.5h1M224 651.5h2M236 651.5h2M354 651.5h1M512 651.5h1M574 651.5h1M657 651.5h1M756 651.5h1M919 651.5h2M943 651.5h1M178 658.5h1M193 658.5h1M214 658.5h1M245 658.5h1M518 658.5h1M522 658.5h4M528 658.5h1M568 658.5h1M663 658.5h1M751 658.5h1M909 658.5h2M955 658.5h2M964 658.5h2M95 693.5h1M156 693.5h1M1005 693.5h2M1018 693.5h2M1119 693.5h2M1146 693.5h2M1154 693.5h2M1236 693.5h2M307 682.5h1M321 682.5h3M330 682.5h2M680 682.5h1M735 682.5h1M1035 682.5h2M1084 682.5h8M1098 682.5h4M1223 682.5h1M167 675.5h1M258 675.5h4M268 675.5h5M338 675.5h1M546 675.5h1M673 675.5h1M1068 675.5h1M275 677.5h2M294 677.5h2M675 677.5h1M978 677.5h1M1070 677.5h1M1220 677.5h1M191 656.5h1M216 656.5h2M242 656.5h2M516 656.5h1M570 656.5h1M661 656.5h1M912 656.5h2M951 656.5h2M231 647.5h1M358 647.5h1M507 647.5h1M579 647.5h1M759 647.5h2M854 647.5h2M932 647.5h5M367 642.5h2M499 642.5h2M586 642.5h2M621 642.5h2M628 642.5h4M778 642.5h4M828 642.5h6M863 642.5h5M882 642.5h2M687 689.5h3M715 689.5h1M728 689.5h1M996 689.5h2M1024 689.5h2M1229 689.5h1M359 646.5h2M506 646.5h1M580 646.5h2M761 646.5h3M850 646.5h4M856 646.5h2M428 632.5h12M460 632.5h12M159 690.5h1M716 690.5h2M726 690.5h2M998 690.5h3M1023 690.5h1M1116 690.5h1M1151 690.5h1M1230 690.5h1M385 635.5h3M444 635.5h1M451 635.5h2M474 635.5h2M604 635.5h5M793 635.5h3M802 635.5h2M96 694.5h2M1007 694.5h5M1016 694.5h2M1121 694.5h3M1144 694.5h2M1156 694.5h1M1189 694.5h2M1238 694.5h3M127 700.5h5M137 700.5h3M148 700.5h2M140 701.5h2M145 701.5h3M180 655.5h1M189 655.5h2M218 655.5h2M241 655.5h1M660 655.5h1M753 655.5h1M914 655.5h1M949 655.5h2M686 688.5h1M690 688.5h4M714 688.5h1M729 688.5h1M993 688.5h3M1026 688.5h1M1228 688.5h1M171 668.5h1M343 668.5h1M1057 668.5h2M1214 668.5h1M302 685.5h1M304 685.5h1M683 685.5h1M732 685.5h1M985 685.5h3M1030 685.5h1M1112 685.5h1M1226 685.5h1M361 645.5h2M504 645.5h2M582 645.5h1M652 645.5h1M764 645.5h2M844 645.5h6M858 645.5h2M887 645.5h1M101 697.5h2M116 697.5h2M121 697.5h2M153 697.5h1M1130 697.5h4M1137 697.5h3M1159 697.5h11M1182 697.5h3M1245 697.5h2M262 676.5h6M273 676.5h2M337 676.5h1M674 676.5h1M739 676.5h1M977 676.5h1M1069 676.5h1M228 649.5h1M234 649.5h1M356 649.5h1M510 649.5h1M576 649.5h2M655 649.5h1M924 649.5h2M939 649.5h2M157 692.5h1M719 692.5h3M1003 692.5h2M1020 692.5h1M1118 692.5h1M1148 692.5h1M1153 692.5h1M1233 692.5h3M226 650.5h2M235 650.5h1M355 650.5h1M511 650.5h1M575 650.5h1M656 650.5h1M757 650.5h1M921 650.5h3M941 650.5h2M183 652.5h2M223 652.5h1M238 652.5h1M353 652.5h1M513 652.5h1M573 652.5h1M658 652.5h1M891 652.5h1M918 652.5h1M944 652.5h2M308 681.5h1M318 681.5h3M332 681.5h1M679 681.5h1M981 681.5h1M1037 681.5h2M1078 681.5h6M1092 681.5h6M277 678.5h2M292 678.5h2M296 678.5h1M311 678.5h2M676 678.5h1M1071 678.5h2M175 661.5h1M197 661.5h1M210 661.5h2M347 661.5h1M565 661.5h1M749 661.5h1M902 661.5h3M108 699.5h5M125 699.5h2M132 699.5h5M150 699.5h2M100 696.5h1M118 696.5h3M154 696.5h1M1126 696.5h4M1140 696.5h2M1158 696.5h1M1170 696.5h4M1178 696.5h4M1185 696.5h2M1243 696.5h2M177 659.5h1M194 659.5h2M213 659.5h1M246 659.5h1M519 659.5h3M529 659.5h1M567 659.5h1M895 659.5h3M907 659.5h2M957 659.5h2M961 659.5h3M1207 659.5h1M204 664.5h4M533 664.5h1M562 664.5h1M747 664.5h1M1211 664.5h1M198 662.5h1M209 662.5h1M564 662.5h1M301 684.5h1M305 684.5h1M326 684.5h2M682 684.5h1M733 684.5h1M983 684.5h2M1031 684.5h2M1108 684.5h4M1225 684.5h1M341 671.5h1M1063 671.5h1M380 637.5h2M447 637.5h2M477 637.5h1M596 637.5h2M612 637.5h2M639 637.5h3M789 637.5h2M805 637.5h2M103 698.5h5M113 698.5h3M123 698.5h2M152 698.5h1M1134 698.5h3M388 634.5h2M396 634.5h16M442 634.5h2M453 634.5h2M473 634.5h1M796 634.5h2M800 634.5h2M255 674.5h3M672 674.5h1M1066 674.5h2M1218 674.5h1M181 654.5h1M187 654.5h2M220 654.5h1M240 654.5h1M351 654.5h1M754 654.5h1M915 654.5h1M948 654.5h1M251 667.5h1M551 667.5h9M745 667.5h1M1052 667.5h5M372 640.5h2M492 640.5h5M589 640.5h2M618 640.5h2M634 640.5h2M648 640.5h1M784 640.5h2M814 640.5h6M876 640.5h4M199 663.5h5M208 663.5h1M532 663.5h1M563 663.5h1M1210 663.5h1M535 666.5h1M560 666.5h1M1047 666.5h5M1203 666.5h1M743 670.5h1M1061 670.5h2M377 638.5h3M478 638.5h1M593 638.5h3M614 638.5h2M637 638.5h2M642 638.5h4M788 638.5h1M807 638.5h3M539 673.5h1M671 673.5h1M741 673.5h1M975 673.5h1M1043 673.5h1M1065 673.5h1M1059 669.5h2M1215 669.5h1M340 672.5h1M548 672.5h1M1064 672.5h1M142 702.5h3M534 665.5h1M561 665.5h1M1212 665.5h1" fill="none" stroke="#f2f2f2" stroke-width="1"/>
<path d="M1021.5 694v2M689.5 715v2M346.5 640v3M1057.5 654v2M306.5 689v3M675.5 709v2M741.5 654v4M753.5 627v2M859.5 646v2M232.5 632v3M190.5 635v2M302.5 696v2M253.5 690v4M1216.5 656v5M612.5 630v2M573.5 638v3M531.5 677v2M208.5 661v2M1041.5 661v3M154.5 689v3M616.5 636v2M562.5 664v2M923.5 644v2M972.5 681v5M1196.5 658v6M537.5 691v3M736.5 671v3M918.5 650v2M246.5 666v2M546.5 693v6M538.5 694v3M1020.5 696v2M345.5 643v4M519.5 679v2M1222.5 686v5M981.5 710v2M249.5 674v4M167.5 642v4M649.5 644v3M541.5 704v3M305.5 692v3M544.5 704v6M968.5 664v4M1142.5 700v2M739.5 661v3M549.5 677v5M895.5 679v2M910.5 663v2M1111.5 689v2M748.5 638v2M1040.5 664v4M349.5 630v4M663.5 679v2M1156.5 697v2M162.5 662v4M153.5 692v3M906.5 671v2M561.5 666v2M888.5 652v4M666.5 688v3M1055.5 650v2M1221.5 681v5M219.5 642v2M1204.5 628v3M1195.5 664v6M569.5 648v3M185.5 621v3M1214.5 648v4M1217.5 661v5M157.5 681v3M231.5 630v2M252.5 686v4M1136.5 708v2M614.5 633v2M237.5 646v2M99.5 711v2M174.5 626v2M529.5 673v2M548.5 682v6M909.5 665v2M532.5 679v2M973.5 686v4M348.5 634v3M244.5 662v2M1210.5 632v4M536.5 687v4M905.5 673v2M118.5 701v2M1211.5 636v4M1203.5 631v2M718.5 703v2M742.5 651v3M568.5 651v2M567.5 653v3M335.5 677v2M1227.5 700v2M1030.5 680v2M654.5 659v3M861.5 643v2M894.5 675v4M1228.5 702v2M300.5 691v3M1043.5 654v3M1193.5 676v6M730.5 688v3M144.5 708v2M1198.5 646v6M547.5 688v5M661.5 675v2M738.5 664v3M173.5 628v2M737.5 667v4M694.5 707v2M886.5 648v2M198.5 656v2M887.5 650v2M757.5 619v2M904.5 675v2M539.5 697v4M308.5 684v3M1201.5 636v3M1064.5 668v2M250.5 678v4M542.5 707v4M334.5 679v2M251.5 682v4M566.5 656v2M543.5 710v3M351.5 625v2M575.5 634v2M729.5 691v3M164.5 654v4M728.5 694v3M1192.5 682v6M1150.5 689v2M172.5 630v3M1147.5 693v2M668.5 694v3M892.5 667v4M159.5 674v4M733.5 680v3M671.5 704v2M1200.5 639v2M1017.5 703v2M298.5 686v3M187.5 627v2M299.5 689v2M565.5 658v2M740.5 658v3M350.5 627v3M749.5 636v2M239.5 651v3M1118.5 704v2M1191.5 688v4M197.5 653v3M170.5 635v3M311.5 676v2M512.5 665v2M523.5 674v2M1119.5 706v2M545.5 699v5M337.5 670v3M745.5 644v2M150.5 700v2M478.5 645v2M805.5 631v2M978.5 702v3M112.5 709v2M1016.5 705v2M656.5 665v2M440.5 630v2M622.5 644v2M1208.5 624v4M309.5 681v3M1157.5 699v2M1058.5 656v2M756.5 621v2M891.5 664v3M215.5 647v2M166.5 646v4M186.5 624v3M234.5 637v3M192.5 640v2M1023.5 690v2M238.5 648v3M514.5 669v2M533.5 681v2M976.5 698v2M161.5 666v4M977.5 700v2M245.5 664v2M248.5 670v4M804.5 628v3M1213.5 644v4M651.5 650v3M1194.5 670v6M688.5 717v2M983.5 714v2M1199.5 641v5M1042.5 657v4M655.5 662v3M856.5 651v2M610.5 627v2M970.5 672v5M156.5 684v3M1113.5 693v2M1220.5 676v5M662.5 677v2M572.5 641v2M1158.5 701v2M307.5 687v2M233.5 635v2M936.5 642v2M254.5 694v4M535.5 685v2M1206.5 623v2M247.5 668v2M1045.5 647v3M295.5 680v2M650.5 647v3M1229.5 704v2M342.5 653v4M163.5 658v4M1115.5 697v3M664.5 681v3M1112.5 691v2M471.5 630v2M802.5 623v3M1044.5 650v4M550.5 671v6M1215.5 652v4M1066.5 672v2M158.5 678v3M212.5 653v2M938.5 645v2M971.5 677v4M881.5 640v2M504.5 653v2M1039.5 668v2M1153.5 691v2M1024.5 688v2M743.5 648v3M336.5 673v4M967.5 661v3M752.5 629v2M301.5 694v2M1027.5 684v2M451.5 637v2M211.5 655v2M955.5 665v2M255.5 698v2M328.5 688v2M241.5 656v2M207.5 663v2M199.5 658v2M800.5 619v2M691.5 712v2M1019.5 698v3M980.5 707v3M477.5 643v2M807.5 635v2M1068.5 676v2M913.5 658v2M940.5 648v2M658.5 669v2M339.5 663v4M184.5 619v2M1185.5 698v2M188.5 629v3M912.5 660v2M194.5 645v3M1205.5 625v3M908.5 667v2M338.5 667v3M516.5 673v2M1212.5 640v4M479.5 647v2M806.5 633v2M732.5 683v3M608.5 624v2M441.5 632v2M885.5 646v2M310.5 678v3M907.5 669v2M115.5 705v2M712.5 695v2M744.5 646v2M1059.5 658v2M731.5 686v2M193.5 642v3M1051.5 645v2M534.5 683v2M735.5 674v3M974.5 690v4M648.5 641v3M755.5 623v2M1224.5 694v2M652.5 653v3M633.5 639v2M751.5 631v3M165.5 650v4M564.5 660v2M210.5 657v2M443.5 635v2M526.5 670v2M560.5 668v2M665.5 684v4M1114.5 695v2M1047.5 641v2M473.5 634v2M169.5 638v2M1061.5 662v2M917.5 652v2M304.5 695v3M563.5 662v2M559.5 670v2M571.5 643v3M520.5 678v2M647.5 639v2M1189.5 693v2M1223.5 691v3M168.5 640v2M296.5 682v2M893.5 671v4M1230.5 706v2M303.5 698v2M445.5 638v2M236.5 643v3M889.5 656v4M472.5 632v2M475.5 638v3M975.5 694v4M570.5 646v2M799.5 617v2M982.5 712v2M979.5 705v2M1067.5 674v2M1070.5 680v2M653.5 656v3M175.5 624v2M660.5 673v2M619.5 640v2M862.5 641v2M963.5 665v2M332.5 682v2M189.5 632v3M1218.5 666v5M196.5 650v3M530.5 675v2M242.5 658v2M518.5 677v2M801.5 621v2M515.5 671v2M637.5 634v2M540.5 701v3M1015.5 707v2M1069.5 678v2M289.5 687v2M659.5 671v2M880.5 638v2M883.5 643v2M1152.5 689v2M747.5 640v2M507.5 657v2M1046.5 643v4M152.5 695v3M890.5 660v4M1117.5 702v2M734.5 677v3M160.5 670v4M1018.5 701v2M669.5 697v4M1144.5 697v2M1139.5 704v2M750.5 634v2M528.5 671v2M240.5 654v2M347.5 637v3M746.5 642v2M551.5 668v3M517.5 675v2M1202.5 633v3M1033.5 676v2M1226.5 698v2M147.5 704v2M969.5 668v4M942.5 651v2M657.5 667v2M1219.5 671v5M1197.5 652v6M183.5 617v2M1060.5 660v2M1063.5 666v2M235.5 640v3M341.5 657v3M574.5 636v2M171.5 633v2M670.5 701v3M915.5 655v2M857.5 649v2M340.5 660v3M727.5 697v2M511.5 663v2M474.5 636v2M267.5 689v2M715.5 699v2M344.5 647v3M293.5 682v2M1207.5 621v3M1155.5 695v2M759.5 615v2M297.5 684v2M343.5 650v3M214.5 649v2M191.5 637v3M446.5 640v2M195.5 648v2M510.5 661v2M1022.5 692v2M1037.5 671v2M243.5 660v2M758.5 617v2M151.5 698v2M754.5 625v2M213.5 651v2M579.5 629v2M209.5 659v2M155.5 687v2M1209.5 628v4M1154.5 693v2M667.5 691v3M1056.5 652v2M527.5 669v2M1225.5 696v2M1065.5 670v2M1062.5 664v2M513.5 667v2M1116.5 700v2M476.5 641v2M803.5 626v2M330.5 685v2M693.5 709v2M480 648.5h1M499 648.5h1M841 648.5h3M858 648.5h1M920 648.5h1M1053 648.5h1M406 627.5h6M581 627.5h1M96 708.5h1M113 708.5h1M127 708.5h2M140 708.5h1M674 708.5h1M1122 708.5h4M1231 708.5h2M224 637.5h1M444 637.5h1M635 637.5h1M645 637.5h1M809 637.5h3M876 637.5h4M258 697.5h2M705 697.5h2M713 697.5h1M1172 697.5h2M1178 697.5h1M1186 697.5h1M292 684.5h1M320 684.5h1M331 684.5h1M1073 684.5h1M1093 684.5h1M1098 684.5h1M225 636.5h1M452 636.5h1M636 636.5h1M644 636.5h1M808 636.5h1M220 641.5h1M448 641.5h1M632 641.5h1M822 641.5h3M926 641.5h1M932 641.5h4M269 687.5h1M273 687.5h1M324 687.5h1M329 687.5h1M1025 687.5h1M1076 687.5h1M1089 687.5h1M1102 687.5h1M277 690.5h1M286 690.5h2M327 690.5h1M1079 690.5h5M226 635.5h1M453 635.5h1M615 635.5h1M642 635.5h2M97 709.5h1M141 709.5h2M1013 709.5h2M1126 709.5h6M1233 709.5h3M854 653.5h2M943 653.5h1M95 707.5h1M114 707.5h1M126 707.5h1M129 707.5h3M138 707.5h2M145 707.5h1M673 707.5h1M1120 707.5h2M1137 707.5h1M276 689.5h1M288 689.5h1M326 689.5h1M1078 689.5h1M1084 689.5h4M1108 689.5h3M314 679.5h2M897 679.5h3M1031 679.5h1M222 639.5h1M450 639.5h1M618 639.5h1M814 639.5h4M866 639.5h4M260 696.5h1M707 696.5h2M1145 696.5h1M1174 696.5h1M1176 696.5h2M1187 696.5h1M230 631.5h1M459 631.5h2M578 631.5h1M124 705.5h1M134 705.5h2M696 705.5h1M719 705.5h1M914 657.5h1M947 657.5h1M401 625.5h3M583 625.5h1M780 625.5h4M120 701.5h1M700 701.5h1M716 701.5h1M724 701.5h1M1166 701.5h2M1183 701.5h1M111 711.5h1M676 711.5h1M692 711.5h1M991 711.5h5M1001 711.5h3M1010 711.5h2M1238 711.5h2M956 667.5h1M962 667.5h1M119 700.5h1M701 700.5h1M725 700.5h1M1168 700.5h2M1182 700.5h1M1184 700.5h1M621 643.5h1M629 643.5h2M827 643.5h2M924 643.5h1M1049 643.5h1M117 703.5h1M122 703.5h1M148 703.5h1M698 703.5h1M721 703.5h1M1140 703.5h1M1159 703.5h3M418 629.5h4M426 629.5h4M436 629.5h4M463 629.5h5M611 629.5h1M524 673.5h1M1036 673.5h1M109 712.5h2M677 712.5h1M989 712.5h2M1004 712.5h2M1008 712.5h2M1240 712.5h2M948 658.5h1M125 706.5h1M132 706.5h2M136 706.5h2M146 706.5h1M672 706.5h1M695 706.5h1M1138 706.5h1M121 702.5h1M149 702.5h1M699 702.5h1M717 702.5h1M722 702.5h2M1141 702.5h1M1162 702.5h4M202 661.5h2M951 661.5h1M181 619.5h1M357 619.5h1M380 619.5h2M385 619.5h3M393 619.5h1M590 619.5h1M600 619.5h2M769 619.5h1M790 619.5h1M229 632.5h1M457 632.5h2M577 632.5h1M613 632.5h1M639 632.5h1M503 652.5h1M852 652.5h2M412 628.5h6M430 628.5h6M580 628.5h1M216 646.5h1M483 646.5h2M497 646.5h1M623 646.5h2M834 646.5h4M922 646.5h1M270 686.5h1M272 686.5h1M290 686.5h1M322 686.5h2M1026 686.5h1M1075 686.5h1M1090 686.5h2M1100 686.5h2M178 621.5h2M355 621.5h1M396 621.5h1M588 621.5h1M604 621.5h1M772 621.5h1M788 621.5h1M101 714.5h1M106 714.5h2M679 714.5h1M690 714.5h1M985 714.5h2M1244 714.5h1M261 695.5h2M709 695.5h2M1146 695.5h1M1175 695.5h1M1188 695.5h1M508 659.5h1M949 659.5h1M352 624.5h1M399 624.5h2M584 624.5h1M775 624.5h5M784 624.5h1M200 660.5h2M509 660.5h1M950 660.5h1M182 618.5h1M358 618.5h1M377 618.5h3M388 618.5h2M392 618.5h1M591 618.5h9M768 618.5h1M791 618.5h5M217 645.5h1M485 645.5h2M496 645.5h1M625 645.5h2M831 645.5h3M860 645.5h1M884 645.5h1M268 688.5h1M274 688.5h2M325 688.5h1M1077 688.5h1M1088 688.5h1M1103 688.5h5M1151 688.5h1M447 642.5h1M620 642.5h1M631 642.5h1M825 642.5h2M882 642.5h1M925 642.5h1M1048 642.5h1M223 638.5h1M617 638.5h1M634 638.5h1M646 638.5h1M812 638.5h2M870 638.5h6M271 685.5h1M291 685.5h1M321 685.5h1M1074 685.5h1M1092 685.5h1M1099 685.5h1M98 710.5h1M143 710.5h1M996 710.5h5M1012 710.5h1M1132 710.5h4M1236 710.5h2M102 715.5h1M104 715.5h2M680 715.5h2M984 715.5h1M1245 715.5h2M100 713.5h1M108 713.5h1M678 713.5h1M987 713.5h2M1006 713.5h2M1242 713.5h2M359 617.5h5M372 617.5h5M390 617.5h2M766 617.5h2M796 617.5h3M502 651.5h1M849 651.5h3M1035 674.5h1M227 634.5h1M442 634.5h1M454 634.5h1M641 634.5h1M684 717.5h1M180 620.5h1M356 620.5h1M382 620.5h3M394 620.5h2M589 620.5h1M602 620.5h2M770 620.5h2M789 620.5h1M500 649.5h1M844 649.5h2M919 649.5h1M1054 649.5h1M176 623.5h1M353 623.5h1M398 623.5h1M585 623.5h1M607 623.5h1M774 623.5h1M785 623.5h1M266 691.5h1M278 691.5h1M282 691.5h4M1149 691.5h1M422 630.5h4M461 630.5h2M468 630.5h3M204 662.5h1M911 662.5h1M952 662.5h1M966 662.5h1M218 644.5h1M487 644.5h9M627 644.5h2M829 644.5h2M937 644.5h1M1050 644.5h1M205 663.5h2M953 663.5h1M965 663.5h1M364 616.5h8M762 616.5h4M702 699.5h1M726 699.5h1M1143 699.5h1M1170 699.5h1M1180 699.5h2M404 626.5h2M582 626.5h1M609 626.5h1M294 681.5h1M317 681.5h1M333 681.5h1M506 656.5h1M946 656.5h1M501 650.5h1M846 650.5h3M941 650.5h1M221 640.5h1M449 640.5h1M818 640.5h4M863 640.5h3M927 640.5h5M481 647.5h2M498 647.5h1M838 647.5h3M921 647.5h1M939 647.5h1M1052 647.5h1M103 716.5h1M682 716.5h2M318 682.5h1M1029 682.5h1M1071 682.5h1M1095 682.5h1M319 683.5h1M1028 683.5h1M1072 683.5h1M1094 683.5h1M1096 683.5h2M553 669.5h3M958 669.5h1M960 669.5h1M116 704.5h1M123 704.5h1M697 704.5h1M720 704.5h1M313 678.5h1M900 678.5h2M1032 678.5h1M1034 675.5h1M312 677.5h1M521 677.5h1M902 677.5h2M177 622.5h1M354 622.5h1M397 622.5h1M586 622.5h2M605 622.5h2M773 622.5h1M786 622.5h2M228 633.5h1M455 633.5h2M576 633.5h1M638 633.5h1M640 633.5h1M256 698.5h2M703 698.5h2M714 698.5h1M1171 698.5h1M1179 698.5h1M265 692.5h1M279 692.5h3M1148 692.5h1M1190 692.5h1M685 718.5h2M687 719.5h1M316 680.5h1M896 680.5h1M760 615.5h2M954 664.5h1M964 664.5h1M556 670.5h2M959 670.5h1M1038 670.5h1M522 676.5h1M263 694.5h1M711 694.5h1M916 654.5h1M944 654.5h1M552 668.5h1M957 668.5h1M961 668.5h1M558 671.5h1M505 655.5h1M945 655.5h1M264 693.5h1M525 672.5h1" fill="none" stroke="#e01ee0" stroke-width="1"/>
<rect x="1275" y="226" width="70" height="18" fill="#000" stroke="none"/>
<path d="M1275.5 226.5H1343.5M1275.5 243.5H1343.5M1275.5 226.5V243.5M1343.5 226V257" stroke="#282828" fill="none"/>
<rect x="1107" y="722" width="111" height="17" fill="#000"/>
<rect x="1107" y="722" width="1" height="17" fill="#2c2c2c"/>
<rect x="1217" y="722" width="1" height="17" fill="#2c2c2c"/>
<rect x="1063" y="738" width="205" height="1" fill="#2c2c2c"/>
<rect x="1212.5" y="1.5" width="13" height="13" fill="none" stroke="#b4b4b4"/>
<rect x="1228.5" y="1.5" width="13" height="13" fill="none" stroke="#b4b4b4"/>
<rect x="1244.5" y="1.5" width="13" height="13" fill="none" stroke="#b4b4b4"/>
<rect x="1260.5" y="1.5" width="13" height="13" fill="none" stroke="#b4b4b4"/>
<rect x="1218" y="3" width="2" height="3" fill="#b4b4b4"/><rect x="1218" y="10" width="2" height="3" fill="#b4b4b4"/><rect x="1214" y="7" width="3" height="2" fill="#b4b4b4"/><rect x="1221" y="7" width="3" height="2" fill="#b4b4b4"/><rect x="1218" y="7" width="2" height="2" fill="#b4b4b4"/>
<rect x="1231" y="3" width="1" height="10" fill="#b4b4b4"/><rect x="1230" y="11" width="10" height="1" fill="#b4b4b4"/><rect x="1234" y="4" width="1" height="6" fill="#b4b4b4"/><path d="M1238 4L1235 7L1238 10Z" fill="#b4b4b4" shape-rendering="auto"/><rect x="1230" y="4" width="3" height="1" fill="#b4b4b4"/><rect x="1238" y="10" width="1" height="3" fill="#b4b4b4"/>
<rect x="1247" y="3" width="1" height="10" fill="#b4b4b4"/><rect x="1246" y="11" width="10" height="1" fill="#b4b4b4"/><path d="M1250 4L1255 7.5L1250 10.5Z" fill="#b4b4b4" shape-rendering="auto"/><rect x="1246" y="4" width="3" height="1" fill="#b4b4b4"/><rect x="1254" y="10" width="1" height="3" fill="#b4b4b4"/>
<rect x="1262.5" y="3.5" width="3" height="9" fill="none" stroke="#b4b4b4"/><rect x="1265" y="7" width="5" height="1" fill="#b4b4b4"/><path d="M1268 5L1271 7.5L1268 10Z" fill="#b4b4b4" shape-rendering="auto"/>
<g shape-rendering="auto" stroke="#f0b030" fill="none" stroke-width="1"><circle cx="193.5" cy="11.5" r="4"/><path d="M189.5 11.5H197.5M193.5 7.5V15.5"/></g>
<rect x="207" y="2" width="11" height="13" fill="#a8a8a8"/><rect x="206" y="1" width="11" height="13" fill="#0000a0"/><rect x="207" y="2" width="9" height="11" fill="#fff"/>
<g shape-rendering="auto" fill="none" stroke-width="1.2"><polyline points="207,9 209.6,4.6 212.4,7.4 214,5.6 216,5.6" stroke="#f00"/><polyline points="207,12 209.6,7.6 212.4,10.4 214,8.6 216,8.6" stroke="#00f"/></g>
<g shape-rendering="auto"><circle cx="29" cy="600" r="3.1" fill="#fff"/><circle cx="29" cy="600" r="1.9" fill="#f00"/><g stroke="#f00" stroke-width="1"><path d="M29 593.5V595.5M29 604.5V606.5M22.5 600H24.5M33.5 600H35.5M24 595L25.2 596.2M34 595L32.8 596.2M24 605L25.2 603.8M34 605L32.8 603.8"/></g></g>
<path d="M65 736L69 728L73 736Z" fill="#fbc259" shape-rendering="auto"/>
</svg>
<div class="t" style="left:92px;top:3px;color:#fff;-webkit-text-stroke:0.3px #fff">美元指数</div>
<div class="t" style="left:138.5px;top:3px;color:#f0a83c;font-weight:bold">【</div><div class="t" style="left:152px;top:3px;color:#f0a83c;letter-spacing:0.6px;-webkit-text-stroke:0.3px #f0a83c">日线</div><div class="t" style="left:176.5px;top:3px;color:#f0a83c;font-weight:bold">】</div>
<div class="t" style="left:220px;top:3px;color:#f6f6f6;-webkit-text-stroke:0.2px #f6f6f6">BOLL(26,2)</div>
<div class="t" style="left:286px;top:3px;color:#f6f6f6;letter-spacing:0.42px;-webkit-text-stroke:0.2px #f6f6f6">MID:106.8898</div>
<div class="t" style="left:373px;top:3px;color:#dcdc0a">UPPER:109.4202</div>
<div class="t" style="left:474.5px;top:3px;color:#e01ee0">LOWER:104.3593</div>
<div class="t" style="left:92px;top:447px;color:#f6f6f6;letter-spacing:0.15px;-webkit-text-stroke:0.2px #f6f6f6">MACD(26,12,9) DIFF:-0.8278</div>
<div class="t" style="left:261px;top:447px;color:#dcdc0a;letter-spacing:0.15px">DEA:-0.5286</div>
<div class="t" style="left:339px;top:447px;color:#e01ee0;letter-spacing:0.28px">MACD:-0.5985</div>
<div class="t" style="left:92px;top:596px;color:#f6f6f6;letter-spacing:0.08px;-webkit-text-stroke:0.2px #f6f6f6">KDJ(9,3,3) K:13.4653</div>
<div class="t" style="left:217.5px;top:596px;color:#dcdc0a;letter-spacing:0.15px">D:23.5534</div>
<div class="t" style="left:282px;top:596px;color:#e01ee0;letter-spacing:0.1px">J:-6.7109</div>
<div class="ax" style="top:14px">111.3721</div>
<div class="rx" style="top:14px">111.3721</div>
<div class="ax" style="top:74px">109.6570</div>
<div class="rx" style="top:74px">109.6570</div>
<div class="ax" style="top:134px">107.9418</div>
<div class="rx" style="top:134px">107.9418</div>
<div class="ax" style="top:195px">106.2266</div>
<div class="rx" style="top:195px">106.2266</div>
<div class="ax" style="top:255px">104.5115</div>
<div class="rx" style="top:255px">104.5115</div>
<div class="ax" style="top:316px">102.7963</div>
<div class="rx" style="top:316px">102.7963</div>
<div class="ax" style="top:376px">101.0811</div>
<div class="rx" style="top:376px">101.0811</div>
<div class="ax" style="top:458px">0.9946</div>
<div class="rx" style="top:458px">0.9946</div>
<div class="ax" style="top:483px">0.6157</div>
<div class="rx" style="top:483px">0.6157</div>
<div class="ax" style="top:508px">0.2368</div>
<div class="rx" style="top:508px">0.2368</div>
<div class="ax" style="top:534px">-0.1422</div>
<div class="rx" style="top:534px">-0.1422</div>
<div class="ax" style="top:559px">-0.5211</div>
<div class="rx" style="top:559px">-0.5211</div>
<div class="ax" style="top:607px">112.9241</div>
<div class="rx" style="top:607px">112.9241</div>
<div class="ax" style="top:633px">81.2761</div>
<div class="rx" style="top:633px">81.2761</div>
<div class="ax" style="top:660px">49.6280</div>
<div class="rx" style="top:660px">49.6280</div>
<div class="ax" style="top:687px">17.9799</div>
<div class="rx" style="top:687px">17.9799</div>
<div class="t" style="left:1277px;top:228px;color:#f0a030;letter-spacing:0.25px">105.5535</div>
<div class="t" style="left:940px;top:50px;color:#fb3250;font-weight:bold;letter-spacing:0.25px">110.1699</div>
<div class="t" style="left:332px;top:418.5px;color:#3cc67e;font-weight:bold;letter-spacing:0.25px">100.1514</div>
<div class="t" style="left:1171px;top:291px;color:#3cc67e;font-weight:bold;letter-spacing:0.25px">103.7500</div>
<div class="t" style="left:34px;top:726px;color:#fbc259;font-weight:bold;letter-spacing:1px">日线</div>
<div class="t" style="left:1107px;top:722px;width:110px;height:16px;background:#000;border-left:1px solid #2c2c2c;box-sizing:border-box"></div>
<div class="t" style="left:1109.5px;top:723px;color:#f59124;letter-spacing:0.42px">2025/02/12 星期三</div>
<div class="t" style="left:1216px;top:704px;font-size:31px;line-height:36px;height:36px;color:#e8eefa;letter-spacing:2.2px;transform:scaleX(0.98);transform-origin:0 0;text-shadow:0 0 2px #0a0604,0 0 2px #0a0604">FX678</div>
<div class="mo" style="left:177.3px">2024/09</div>
<div class="mo" style="left:345.3px">2024/10</div>
<div class="mo" style="left:529.3px">2024/11</div>
<div class="mo" style="left:697.3px">2024/12</div>
<div class="mo" style="left:873.3px">2025/01</div>
<div class="mo" style="left:1057.3px">2025/02</div>
<div class="mo" style="left:1217.3px">2025/03</div>
<svg width="40" height="30" viewBox="1225 700 40 30" style="position:absolute;left:1225px;top:700px" shape-rendering="crispEdges"><path d="M1230 706.5h1M1230 707.5h1M1231 708.5h1M1232 708.5h1M1233 709.5h1M1234 709.5h1M1235 709.5h1M1236 710.5h1M1237 710.5h1M1238 711.5h1M1239 711.5h1M1240 712.5h1M1241 712.5h1M1242 713.5h1M1243 713.5h1M1244 714.5h1M1245 715.5h1M1246 715.5h1" stroke="#e01ee0" stroke-width="1" fill="none"/></svg>
<div class="tab" style="left:20px;width:40px;color:#c8c8c8">指标</div>
<div class="tab sel" style="left:60px;width:39px;color:#fff">模板</div>
<div class="tab" style="left:100px;width:57px;color:#fbc259"><span style='font-family:"Liberation Serif",serif;letter-spacing:-0.4px'>VIP</span>指标</div>
<div class="tab" style="left:158px;width:39px;color:#c8c8c8">标准</div>
<div class="tab" style="left:198px;width:22px;color:#c0c0c0"><span style='font-family:"Liberation Serif",serif'>1</span></div>
<div class="tab" style="left:221px;width:20px;color:#c0c0c0"><span style='font-family:"Liberation Serif",serif'>2</span></div>
<div class="tab sel" style="left:242px;width:63px;color:#fff">另存模板</div>
<div class="tab" style="left:306px;width:63px;color:#c8c8c8">管理模板</div>
<div class="dv" style="left:157px"></div>
<div class="dv" style="left:197px"></div>
<div class="dv" style="left:220px"></div>
<div class="dv" style="left:369px"></div>
</body></html>
